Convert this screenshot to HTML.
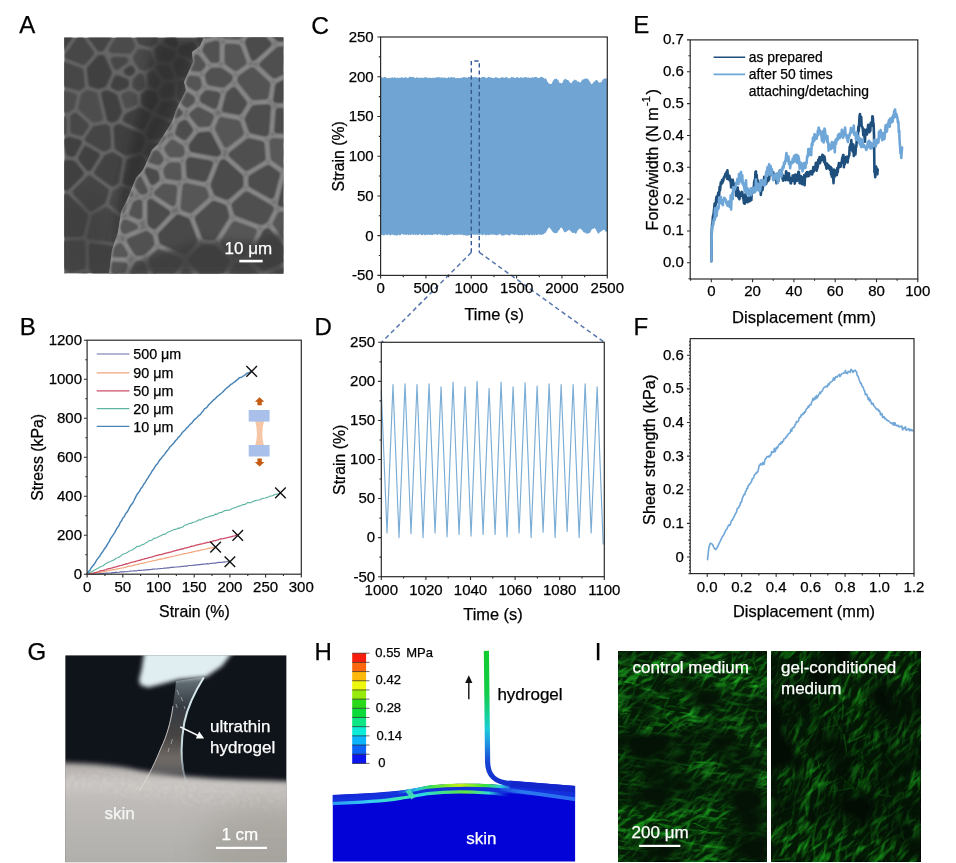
<!DOCTYPE html>
<html lang="en">
<head>
<meta charset="utf-8">
<title>Ultrathin hydrogel figure</title>
<style>
html,body{margin:0;padding:0;background:#fff;}
body{width:956px;height:863px;overflow:hidden;}
svg{display:block;font-family:"Liberation Sans", sans-serif;}
text{stroke-width:0.25px;}
</style>
</head>
<body>
<svg width="956" height="863" viewBox="0 0 956 863">
<rect width="956" height="863" fill="#fff"/>
<text x="19.2" y="33.2" font-size="24" text-anchor="start" fill="#000" stroke="#000">A</text>
<defs><clipPath id="cA"><rect x="64.2" y="37.4" width="219.1" height="236"/></clipPath>
<clipPath id="cAf"><path d="M204 37 L200 46 L192 52 L193 62 L184 82 L186 90 L176 110 L172 122 L158 144 L152 150 L143 170 L136 178 L127 200 L121 212 L118 232 L112 250 L109 274 L284 274 L284 37Z"/></clipPath>
<filter id="bA" x="-5%" y="-5%" width="110%" height="110%"><feGaussianBlur stdDeviation="1.1"/></filter>
<filter id="bA2" x="-5%" y="-5%" width="110%" height="110%"><feGaussianBlur stdDeviation="0.85"/></filter>
<filter id="bA3" x="-30%" y="-30%" width="160%" height="160%"><feGaussianBlur stdDeviation="7"/></filter>
<filter id="bA5" x="-30%" y="-30%" width="160%" height="160%"><feGaussianBlur stdDeviation="5"/></filter><filter id="bA4" x="-30%" y="-30%" width="160%" height="160%"><feGaussianBlur stdDeviation="3"/></filter>
</defs>
<g clip-path="url(#cA)">
<rect x="64.2" y="37.4" width="219.1" height="236" fill="#666"/>
<g filter="url(#bA)" stroke-width="7" stroke-linejoin="round"><path d="M55.4 244.49 L55.4 259.15 L70.98 269.04 L82.27 266.31 L81.81 243.61Z" fill="#484848" stroke="#484848"/><path d="M222.5 57.09 L227.14 72.62 L231.54 75.35 L242.36 67.5 L242.45 53.09 L231.69 51.94Z" fill="#434343" stroke="#434343"/><path d="M150.62 75.44 L151.68 83.75 L154.78 84.55 L156.85 81.74 L151.85 74.74Z" fill="#4a4a4a" stroke="#4a4a4a"/><path d="M225.11 193.95 L231.51 200.7 L230.67 192.85 L227.18 191.78Z" fill="#424242" stroke="#424242"/><path d="M284.49 56.79 L287.4 65.47 L292.1 66.84 L292.1 53.55Z" fill="#4b4b4b" stroke="#4b4b4b"/><path d="M181.51 84.36 L180.89 96.81 L188.31 103.67 L192.93 102.78 L194.04 86.43 L189.91 82.92Z" fill="#484848" stroke="#484848"/><path d="M164.9 170.92 L172.68 181.56 L185.7 176.68 L179.18 162.78Z" fill="#444444" stroke="#444444"/><path d="M55.4 64.69 L55.4 80.88 L78.62 87.23 L81.52 85.26 L80.04 71.3 L59.88 63.7Z" fill="#474747" stroke="#474747"/><path d="M90.42 236.02 L112.52 238.9 L119.21 232.28 L120.51 222.44 L106.2 210.77 L94.84 217.58Z" fill="#484848" stroke="#484848"/><path d="M173.18 250.97 L175.08 255.13 L183.47 260.34 L187.2 260.79 L184.49 245.01 L181.29 244.62Z" fill="#434343" stroke="#434343"/><path d="M218.67 34.46 L220.78 46.14 L224.94 43.81 L224.12 38.1Z" fill="#4b4b4b" stroke="#4b4b4b"/><path d="M252.66 149.45 L253.17 160.4 L269.3 169.56 L284.08 152.11 L269.91 143.45 L254.98 145.76Z" fill="#454545" stroke="#454545"/><path d="M130.86 223.51 L129.87 230.99 L139.44 233.79 L145.68 227.97 L139.62 218.59Z" fill="#4c4c4c" stroke="#4c4c4c"/><path d="M55.4 271.46 L55.4 282.2 L61.8 282.2 L63.76 276.77Z" fill="#4b4b4b" stroke="#4b4b4b"/><path d="M104.7 94.45 L110.38 118.66 L111.8 119.29 L115.4 117.7 L118.62 111.63 L114.11 96.83 L107.05 93.68Z" fill="#414141" stroke="#414141"/><path d="M274.59 59.98 L267.41 73.07 L268.54 74.16 L277.2 67.77Z" fill="#494949" stroke="#494949"/><path d="M92.28 246.75 L92.72 268.63 L102.62 282.2 L108.83 282.2 L118.2 264.95 L110.86 249.17Z" fill="#444444" stroke="#444444"/><path d="M273.8 83.21 L276.39 97.23 L292.1 96.27 L292.1 77.67 L284.35 75.42Z" fill="#4a4a4a" stroke="#4a4a4a"/><path d="M55.4 143.09 L55.4 158.53 L59.32 155.7 L56.3 143.31Z" fill="#474747" stroke="#474747"/><path d="M195.01 214.36 L199.29 228.84 L207.27 228.55 L210.12 220.23 L206.34 214.79Z" fill="#464646" stroke="#464646"/><path d="M287.06 237.29 L280.25 249.3 L292.1 253.97 L292.1 235.7Z" fill="#4c4c4c" stroke="#4c4c4c"/><path d="M90.28 69.28 L91.82 83.74 L98.42 85.56 L103.53 83.89 L108.44 72.91 L102.04 58.42 L99.78 58.48Z" fill="#404040" stroke="#404040"/><path d="M175.01 191.79 L172.07 201.11 L175.29 205.03 L186.46 205.74 L190.14 186.12Z" fill="#474747" stroke="#474747"/><path d="M262.34 229.8 L270.88 244.74 L276.6 234.65 L264.87 227.09Z" fill="#444444" stroke="#444444"/><path d="M55.4 171.36 L55.4 186.89 L66.68 187.04 L80.21 173.47 L72.7 163.87 L66.64 163.24Z" fill="#404040" stroke="#404040"/><path d="M176.59 64.62 L180.34 74.01 L186.6 72.94 L187.32 64.99 L179.23 61.56Z" fill="#4a4a4a" stroke="#4a4a4a"/><path d="M234.41 36.58 L235.17 41.86 L242.08 42.59 L243.38 28.6 L240.88 28.6Z" fill="#474747" stroke="#474747"/><path d="M203.43 101.67 L216.86 100.53 L226.12 84.23 L222.09 81.72 L204.37 87.93Z" fill="#4c4c4c" stroke="#4c4c4c"/><path d="M162.92 232.69 L164.78 240.93 L166.97 242.62 L172.48 238.31 L166.7 230.94Z" fill="#484848" stroke="#484848"/><path d="M85.8 28.6 L99.97 48.07 L101.26 48.04 L112.93 28.6Z" fill="#444444" stroke="#444444"/><path d="M162.65 28.6 L163.37 31.18 L170.54 28.6Z" fill="#4d4d4d" stroke="#4d4d4d"/><path d="M127.96 116.22 L126.33 119.28 L141.73 126.3 L146.82 115.59 L139.53 111.2Z" fill="#414141" stroke="#414141"/><path d="M167.42 40.77 L174.4 43.41 L174.65 43 L172.74 38.86Z" fill="#404040" stroke="#404040"/><path d="M136.77 56.98 L137.1 59.93 L141.48 66.67 L144.11 67.16 L149.43 64.18 L150.44 62.15 L148.01 53.61 L140.19 51.99Z" fill="#4a4a4a" stroke="#4a4a4a"/><path d="M252.42 43.69 L264.13 42.67 L266.82 28.6 L253.82 28.6Z" fill="#454545" stroke="#454545"/><path d="M220.09 153.86 L220.61 162.49 L225.48 166.31 L242.25 162.09 L242.81 161.5 L242.43 153.37Z" fill="#454545" stroke="#454545"/><path d="M115.85 192.79 L112.69 202.65 L126.59 213.98 L137.33 207.94 L139.59 203.11 L135.15 195.2 L120.56 190.39Z" fill="#4c4c4c" stroke="#4c4c4c"/><path d="M181.2 124.69 L181.99 136.97 L185.64 141.08 L202.76 137.2 L194.61 113.04 L189.6 114.01Z" fill="#444444" stroke="#444444"/><path d="M112.41 49.67 L128.72 50.33 L131.85 45.76 L124.19 30.06Z" fill="#4c4c4c" stroke="#4c4c4c"/><path d="M160.4 111.2 L174.2 116.76 L179.65 109.83 L173.73 104.36 L163.82 105.24Z" fill="#494949" stroke="#494949"/><path d="M129.64 161.92 L126.07 181.26 L136.71 184.77 L148.09 169 L140.08 159.28Z" fill="#444444" stroke="#444444"/><path d="M198.39 270.69 L198 282.2 L222.44 282.2 L209.52 267.93Z" fill="#404040" stroke="#404040"/><path d="M127.2 270.18 L120.67 282.2 L143.37 282.2Z" fill="#434343" stroke="#434343"/><path d="M166.1 86.72 L162.76 91.27 L164.1 94.78 L170.6 94.2 L171.01 86.21Z" fill="#4d4d4d" stroke="#4d4d4d"/><path d="M147.88 242.38 L154 240.41 L152.89 235.48 L147.14 240.83Z" fill="#454545" stroke="#454545"/><path d="M273.61 257.86 L283.52 282.2 L292.1 282.2 L292.1 265.14Z" fill="#424242" stroke="#424242"/><path d="M88.63 139.21 L103.91 147.91 L107.49 146.45 L106.75 128.43 L105.24 127.76 L95.2 129.47Z" fill="#444444" stroke="#444444"/><path d="M219.95 223.63 L216.95 232.4 L219.63 235.35 L236.24 229.34 L231.14 220.25Z" fill="#4c4c4c" stroke="#4c4c4c"/><path d="M155.79 176.09 L144.85 191.25 L148.42 197.6 L162.41 197.16 L165.06 188.76Z" fill="#424242" stroke="#424242"/><path d="M194.55 242.19 L197.64 260.16 L207.98 257.6 L213.4 248.81 L213.05 243.58 L208.81 238.9 L197.6 239.3Z" fill="#4a4a4a" stroke="#4a4a4a"/><path d="M144.39 96.12 L144.88 102.29 L151.31 106.15 L154.91 99.86 L152.99 94.83 L148.01 93.54Z" fill="#414141" stroke="#414141"/><path d="M55.4 91.66 L55.4 108.71 L66.95 109.3 L71.23 106.57 L73.42 96.59Z" fill="#4d4d4d" stroke="#4d4d4d"/><path d="M80.32 38.74 L68.37 55.79 L83.34 61.43 L90.72 53.03Z" fill="#474747" stroke="#474747"/><path d="M217.77 261.54 L227.14 271.9 L232.6 261.43 L220.81 256.61Z" fill="#404040" stroke="#404040"/><path d="M218.03 201.59 L215.01 209.04 L218.01 213.35 L226.68 210.73Z" fill="#4d4d4d" stroke="#4d4d4d"/><path d="M277.41 28.6 L274.11 45.89 L275.79 47.69 L277.79 48.34 L292.1 42.25 L292.1 28.6Z" fill="#454545" stroke="#454545"/><path d="M205.22 111.95 L211.48 130.51 L223.86 120.06 L217.48 110.91Z" fill="#4a4a4a" stroke="#4a4a4a"/><path d="M55.4 119.12 L55.4 132.39 L59.91 133.49 L63.36 131.65 L63.2 119.52Z" fill="#474747" stroke="#474747"/><path d="M130.68 69.13 L127.31 71.56 L129.79 72.6 L131.69 70.69Z" fill="#414141" stroke="#414141"/><path d="M187 154.99 L195.71 173.52 L210.2 162.65 L209.49 150.74 L206.5 147.02 L188.01 151.21Z" fill="#414141" stroke="#414141"/><path d="M107.03 157.87 L97.87 172.34 L112.09 183.03 L115.48 181.31 L119.38 160.21 L112.31 155.72Z" fill="#424242" stroke="#424242"/><path d="M279.16 107.48 L276.49 135.28 L292.1 144.82 L292.1 106.69Z" fill="#424242" stroke="#424242"/><path d="M270.29 213.8 L269.69 217.81 L284.31 227.25 L292.1 224.79 L292.1 206.34 L287.71 205.4Z" fill="#404040" stroke="#404040"/><path d="M252.84 54.09 L252.77 66.26 L258.39 67.89 L266.54 53.02 L266.43 52.91Z" fill="#404040" stroke="#404040"/><path d="M159.91 68.13 L165.75 76.3 L169.89 75.87 L166.98 68.59Z" fill="#4d4d4d" stroke="#4d4d4d"/><path d="M248.9 118.88 L246.93 122.12 L254.56 135.3 L266.21 133.5 L268.69 107.73Z" fill="#414141" stroke="#414141"/><path d="M73.58 117.4 L73.75 130.69 L80.65 132.43 L85.31 125.52 L75.27 116.32Z" fill="#474747" stroke="#474747"/><path d="M117.28 78.61 L114.21 85.48 L118.58 87.44 L125.3 84.95 L125.52 82.09Z" fill="#414141" stroke="#414141"/><path d="M223.57 244.99 L223.67 246.54 L239.33 252.94 L238 239.76Z" fill="#434343" stroke="#434343"/><path d="M158.03 50.8 L159.99 57.71 L168.35 58.26 L172.12 53.87 L172.07 53.65 L159.92 49.05Z" fill="#4a4a4a" stroke="#4a4a4a"/><path d="M84.2 96.02 L81.57 107.99 L93.77 119.16 L99.58 118.17 L94.19 95.18 L87.96 93.46Z" fill="#4d4d4d" stroke="#4d4d4d"/><path d="M136.04 81.07 L135.66 85.77 L138.65 87.44 L141.42 85.47 L140.34 77.04 L140.09 76.99Z" fill="#464646" stroke="#464646"/><path d="M117.15 128.3 L117.92 146.96 L126.02 152.11 L138.13 149.05 L141.2 141.22 L139.92 136.91 L119.12 127.42Z" fill="#404040" stroke="#404040"/><path d="M124.8 96.23 L127.5 105.08 L134.43 102.07 L134.01 96.77 L129.77 94.39Z" fill="#4d4d4d" stroke="#4d4d4d"/><path d="M81.61 158.37 L88.67 167.41 L96.22 155.5 L86.14 149.76Z" fill="#404040" stroke="#404040"/><path d="M140.76 267.31 L152.03 275.68 L152 273 L150.48 269.64Z" fill="#454545" stroke="#454545"/><path d="M155.94 120.62 L149.78 133.59 L150.48 135.94 L171.4 134.3 L170.9 126.65Z" fill="#474747" stroke="#474747"/><path d="M241.08 192.37 L242.02 201.17 L242.48 201.01 L242.52 191.85Z" fill="#4c4c4c" stroke="#4c4c4c"/><path d="M249.92 170.51 L249.09 183.2 L249.11 183.21 L256.24 182.68 L261.09 176.86Z" fill="#4b4b4b" stroke="#4b4b4b"/><path d="M174.02 223.43 L182.55 234.29 L187.16 234.86 L189.56 232.59 L184.66 216.05 L176.47 215.53Z" fill="#484848" stroke="#484848"/><path d="M135.04 28.6 L141.4 41.62 L150.59 43.52 L154.02 40.34 L154.52 38.11 L151.85 28.6Z" fill="#454545" stroke="#454545"/><path d="M239.41 213.73 L246.03 225.54 L253.3 224.24 L259.14 217.99 L259.89 213.01 L247.93 210.12 L240.39 212.74Z" fill="#4b4b4b" stroke="#4b4b4b"/><path d="M260.48 264.17 L259.69 282.2 L272.29 282.2 L264.29 262.55Z" fill="#4c4c4c" stroke="#4c4c4c"/><path d="M203.01 181.04 L215.68 188.75 L220.23 184 L219.32 174.7 L215.48 171.69Z" fill="#4c4c4c" stroke="#4c4c4c"/><path d="M243.89 96.24 L247.96 107.47 L257.69 101.99Z" fill="#4a4a4a" stroke="#4a4a4a"/><path d="M277.74 175.68 L290.27 195.31 L292.1 195.7 L292.1 158.73Z" fill="#414141" stroke="#414141"/><path d="M55.4 197.29 L55.4 234.09 L80.38 233.26 L84.57 215.83 L66.59 197.44Z" fill="#444444" stroke="#444444"/><path d="M264.45 189.07 L267.61 203.54 L279.52 197.8 L269.83 182.61Z" fill="#464646" stroke="#464646"/><path d="M114.17 60.15 L116.87 66.25 L124.76 60.58Z" fill="#474747" stroke="#474747"/><path d="M166.74 282.2 L187.6 282.2 L187.96 271.35 L183.06 270.77Z" fill="#4b4b4b" stroke="#4b4b4b"/><path d="M243.57 262.88 L233.74 281.76 L233.81 282.2 L249.28 282.2 L250.07 264.21 L245 262.3Z" fill="#434343" stroke="#434343"/><path d="M215.07 141.09 L217.03 143.52 L244.48 142.92 L245.77 140.88 L237.7 126.95 L232.49 126.38Z" fill="#494949" stroke="#494949"/><path d="M89.4 178.98 L76.12 192.3 L91.14 207.67 L102.3 200.99 L105.48 191.07Z" fill="#454545" stroke="#454545"/><path d="M199.99 38.75 L205.21 48.74 L210.77 49.23 L207.04 28.6 L205.44 28.6 L200.51 36.34Z" fill="#4a4a4a" stroke="#4a4a4a"/><path d="M74 279.01 L72.86 282.2 L89.75 282.2 L85.4 276.25Z" fill="#424242" stroke="#424242"/><path d="M120.63 245.51 L127.23 259.7 L132.29 256.79 L138.98 247.89 L137.12 243.95 L125.61 240.58Z" fill="#464646" stroke="#464646"/><path d="M252.91 193.35 L252.89 200.62 L256.52 201.5 L254.71 193.22Z" fill="#414141" stroke="#414141"/><path d="M147.26 211.25 L155.6 224.16 L156.29 224.3 L163.96 220.75 L166.91 211.22 L163.87 207.51 L148.79 207.99Z" fill="#424242" stroke="#424242"/><path d="M197.83 64.22 L196.84 75.17 L200.5 78.27 L216.32 72.72 L212.47 59.82 L203.69 59.05Z" fill="#4d4d4d" stroke="#4d4d4d"/><path d="M226.17 105.19 L233.75 116.06 L238.15 116.53 L239.43 114.44 L232.21 94.56Z" fill="#444444" stroke="#444444"/><path d="M238.86 82.89 L265.18 93.84 L263.28 83.54 L258.26 78.68 L248.54 75.86Z" fill="#4c4c4c" stroke="#4c4c4c"/><path d="M229.89 175.93 L230.48 181.92 L235.33 183.4 L238.74 182.16 L239.3 173.55Z" fill="#474747" stroke="#474747"/><path d="M55.4 28.6 L55.4 54.04 L57.17 53.65 L74.73 28.6Z" fill="#404040" stroke="#404040"/><path d="M147.95 152.48 L157 163.46 L177.03 152.04 L178.05 148.2 L174.75 144.47 L150.34 146.38Z" fill="#4b4b4b" stroke="#4b4b4b"/><path d="M66.61 141.7 L69.39 153.07 L72.48 153.39 L78.19 142.54 L69.27 140.29Z" fill="#404040" stroke="#404040"/><path d="M182.08 50.73 L182.26 51.54 L191.86 55.62 L195.42 52.47 L191.85 45.63 L183.89 47.85Z" fill="#4b4b4b" stroke="#4b4b4b"/><path d="M199.76 191.24 L197.36 204.05 L205.68 204.36 L208.78 196.72Z" fill="#404040" stroke="#404040"/><path d="M248.05 235.75 L249.79 252.99 L255.31 255.07 L262.94 251.81 L253.23 234.82Z" fill="#494949" stroke="#494949"/></g>
<path d="M156 37 L204 37 L186 82 L176 112 L158 146 L143 172 L128 202 L120 232 L112 262 L118 205 L130 150 L142 100 L150 60Z" fill="#2c2c2c" opacity="0.72" filter="url(#bA5)"/>
<path d="M64 205 L100 195 L112 274 L64 274Z" fill="#3a3a3a" opacity="0.45" filter="url(#bA3)"/>
<g clip-path="url(#cAf)">
<path d="M204 37 L200 46 L192 52 L193 62 L184 82 L186 90 L176 110 L172 122 L158 144 L152 150 L143 170 L136 178 L127 200 L121 212 L118 232 L112 250 L109 274 L284 274 L284 37Z" fill="#6e6e6e"/>
<g filter="url(#bA2)"><path d="M83.12 102.05 L79.49 118.72 L86.97 126.16 L99.03 122.74 L105.15 114.41 L91.69 98.13ZM272.43 141.91 L273.74 158.27 L284.55 165.84 L291.7 164.06 L291.7 142.14 L273.29 141.19ZM197.83 218.22 L204.97 236.83 L213.25 237.3 L226.32 216.53 L223.61 207.39 L213.91 203.88ZM72.31 232.01 L67.86 246.62 L77.76 253.97 L88.41 244.24 L86.84 238.61ZM278.7 49.69 L262.63 64.58 L274.31 75.32 L291.7 67.09 L291.7 49.45ZM182.06 93.11 L181.37 99.37 L187.01 104.55 L191.77 100.76 L191.72 98.47 L182.43 92.88ZM225.32 29 L224.6 35.2 L224.67 35.26 L238.74 36.23 L242.56 29ZM178.07 217.56 L161.06 235.11 L162.42 241.68 L184 251 L194.49 240.78 L186.88 220.95ZM227.75 46.7 L227.63 62.28 L235.72 68 L243.49 62.49 L237.97 47.41ZM240.86 78.09 L240.41 80.68 L253.5 96.99 L265.51 96.32 L267.32 84.11 L252.18 70.19 L252 70.19ZM231.76 154.67 L246.49 167.76 L262.51 158.3 L261.36 144.05 L248.81 141.26ZM82.51 208.42 L76.32 221.53 L90.3 227.88 L94.22 223.92 L94.01 210.45ZM234.57 204.95 L236.98 213.08 L261.21 222.01 L264.96 220.21 L270.78 208.9 L270.48 208.19 L246.55 194.54ZM276.33 99.75 L291.7 100.46 L291.7 79.48 L278.4 85.78ZM93.32 60.62 L100.04 75 L122.61 69.59 L118.19 50.43 L108.82 48.05ZM180.68 125.25 L178.29 133.13 L184.51 136.98 L190.03 129.87 L184.68 122.83ZM134.96 139.59 L129.59 149.42 L139.96 152.55 L144.21 146.84 L141.23 139.24ZM108.29 29 L111.61 37.2 L121.47 39.71 L131.25 31.49 L131.57 29ZM159.33 102.13 L170.29 97.65 L170.74 93.55 L162.8 90.73ZM151.66 259.28 L158.72 281.8 L165.3 281.8 L179.12 261.09 L158.76 252.3ZM80.81 189.67 L83.46 197.22 L98.46 199.86 L102.1 197.68 L104.16 193.97 L103.93 190.44 L87.78 182.73ZM202.89 97.44 L202.95 99.95 L214.43 105.87 L217.32 95.01 L206.97 93.16ZM135.67 204.01 L132.28 213.39 L139.28 216.27 L139.27 202.33ZM247.8 118.82 L251.73 130.43 L265.13 133.41 L265.97 132.71 L267.8 107.41 L254.2 108.17ZM280.85 203.61 L291.7 203.9 L291.7 175.6 L288 176.52ZM150.47 201.89 L150.48 223.11 L150.9 223.83 L154.22 226.07 L167.09 212.79ZM112.1 265.06 L111.38 268.66 L115.62 271.95 L122.82 270.48 L124.71 265.48ZM126.2 115.21 L134.52 128.39 L141.97 127.98 L145.77 122.63 L146.01 113.27 L133.44 109.98ZM265.73 232.26 L253.73 258.37 L263.95 267.22 L288.13 256.86 L267.51 231.41ZM291.7 267.52 L268.43 277.49 L268.32 281.8 L291.7 281.8ZM166.31 170.19 L167.51 175.8 L178.48 177.56 L177.86 165.56 L170.32 165.5ZM207.28 46.1 L205.43 50.2 L212.51 59.69 L216.45 59.64 L216.58 43.63ZM191.1 259.72 L211.52 281.8 L214.9 281.8 L226.82 261.04 L213.85 248.56 L203.18 247.94ZM55.8 257.17 L55.8 279.95 L72.85 267.12 L72.68 264.15 L60.58 255.17ZM192.44 114.54 L199.73 124.12 L207.92 123.57 L210.74 116.56 L198.09 110.04ZM93.57 165.46 L92.68 172.66 L107.81 179.88 L112.32 174.5 L110.89 163.06ZM55.8 64.26 L55.8 80.42 L78.37 91.9 L88.83 87.12 L90.83 81.75 L82.36 63.62 L67.08 58.78ZM134.87 78.39 L137.41 99.44 L147.63 102.12 L153.21 83.78 L150.85 78.13 L149.39 77.29ZM275.73 223.76 L291.7 243.48 L291.7 215.1 L280.34 214.8ZM167.01 148.61 L170.79 154.3 L180.46 154.39 L181.84 152.61 L180.86 147.88 L172.37 142.63ZM55.8 92.99 L55.8 118.69 L68.65 115.84 L71.85 101.15ZM137.17 264.2 L133.14 274.86 L137.11 281.8 L146.99 281.8 L141.32 263.75ZM129.11 47.92 L133.57 67.25 L145.95 66.32 L149.29 47.97 L137.15 41.16ZM189.87 78.8 L188.77 83.63 L196.28 88.15 L198.83 85.46 L197.41 79.5ZM110.35 252.47 L111.04 253.82 L124.95 254.28 L120.06 246.23ZM83.87 263.56 L84.04 266.72 L91.74 271.97 L100.23 267.31 L101.67 260.11 L98.87 254.6 L95.59 252.85ZM55.8 29 L55.8 51.81 L61.58 49 L64.9 29ZM149.02 159.13 L158.43 162.17 L160.76 159.45 L156.86 153.57 L153.28 153.41ZM162.55 77.08 L163.36 79.04 L176.16 83.59 L177.48 82.79 L179.27 74.88 L172.92 72.4ZM76.25 29 L72.95 48.89 L85.21 52.77 L100.73 40.19 L96.2 29ZM55.8 130.16 L55.8 149.37 L76.76 146.5 L79.26 134.28 L71.58 126.66ZM55.8 160.68 L55.8 177.09 L72.73 181.91 L81.31 173.37 L82.69 162.14 L79.03 157.5ZM55.8 225.99 L55.8 245.02 L56.76 244.62 L61.84 227.93ZM55.8 188.74 L55.8 214.22 L65.87 217.45 L73.22 201.85 L70.04 192.78ZM129.95 240.95 L137.23 252.92 L142.75 252.33 L151.42 243.81 L149.95 236.71 L146.09 234.1ZM147.43 170.84 L152.79 182.01 L156.67 178.65 L155.46 172.98 L147.55 170.42ZM115.04 188.68 L115.17 190.68 L130 193.93 L123.42 183.7 L120.08 182.67ZM105.19 208.88 L105.37 220.74 L113.14 220.96 L114.23 218.9 L105.19 208.88ZM208.04 75.79 L209.58 82.25 L222.74 84.61 L229.3 79.21 L229.61 77.39 L220.26 70.79 L212.31 70.89ZM121.64 158.73 L123.29 171.94 L126.46 172.92 L136.74 167.48 L137.88 163.62ZM191.73 67.73 L199.58 68.45 L202.54 65.05 L196.8 57.37 L196.16 57.56ZM90.15 136.9 L87.45 150.09 L90.95 154.52 L110 151.88 L99.74 134.18ZM185.58 186.31 L183.59 207.68 L190.03 210.16 L206.01 195.91 L203.58 189.85 L185.75 186.17ZM151.29 134.2 L154.45 142.26 L157.55 142.39 L162.22 137.18 L152.95 131.87ZM237.12 265.59 L227.82 281.8 L257.11 281.8 L257.26 276.25 L244.83 265.48ZM269.21 29 L278.73 38.48 L291.7 38.24 L291.7 29ZM97.8 236.23 L99.47 242.23 L102.8 244 L114.79 236.31 L112.85 232.16 L102.13 231.86ZM135.03 181.05 L141.61 191.27 L143.65 191.47 L144.64 190.91 L138.92 179ZM188.88 161.8 L189.59 175.52 L204.18 178.54 L210 163.73 L190.19 160.12ZM157.13 116.53 L157.01 121.29 L168.23 127.72 L169.33 124.07ZM202.05 29 L201.77 30.66 L205.33 35.03 L213.6 32.83 L214.04 29ZM178.13 39.68 L192.61 46.93 L194.92 46.25 L196.74 42.22 L193.39 38.11ZM113.96 201.88 L121.51 210.25 L123.76 204.03ZM222.27 163.15 L213.69 184.95 L216.94 193.06 L226.98 196.7 L240.26 185.16 L240.23 177.18 L223.52 162.33ZM142.87 29 L142.56 31.35 L156.32 39.08 L166.8 36.49 L167.71 33.99 L166.9 29ZM99.64 90.17 L114.73 108.41 L116.68 108.28 L126.35 101.29 L123.88 80.8 L101.11 86.26ZM78.77 276.68 L71.96 281.8 L86.11 281.8 L86.1 281.68ZM97.35 281.66 L97.37 281.8 L108.29 281.8 L108.4 280.52 L104.68 277.64ZM157.17 67.23 L167.08 62.75 L166.73 48.05 L160.37 49.62ZM124.95 222.58 L122.72 226.81 L124.68 231.02 L135.02 226.63 L125.07 222.54ZM221.41 120.05 L217.96 128.61 L226.38 144.66 L240.86 133.26 L237.41 123.06ZM191.86 145.78 L192.56 149.17 L216.52 153.53 L217.91 152.62 L208.54 134.75 L199.98 135.33ZM234.73 224.19 L223.4 242.21 L236.07 254.4 L243.27 254.3 L253.87 231.24ZM278.77 111.07 L277.38 130.19 L291.7 130.93 L291.7 111.67ZM186.1 270.81 L178.77 281.8 L196.26 281.8ZM168.59 110.44 L175.97 115.01 L179.51 112.87 L174.33 108.1ZM251.44 177.85 L251.46 184.45 L271.33 195.78 L277.02 174.24 L268.11 168ZM109.09 127.96 L119.1 145.25 L125.05 134.37 L115.71 119.57 L115.23 119.61ZM178.03 52.16 L178.28 62.47 L181.29 63.64 L184.81 55.55ZM248.1 42.49 L253.64 57.64 L268.38 43.98 L254.58 30.23ZM157.26 192.95 L172.77 203.12 L174.15 188.21 L164.53 186.66ZM229.25 93.76 L225.1 109.35 L238.87 111.94 L244.12 103.2 L233.64 90.14Z" fill="none" stroke="#9a9a9a" stroke-width="10.2" stroke-linejoin="round"/><g stroke-width="7.4" stroke-linejoin="round"><path d="M83.12 102.05 L79.49 118.72 L86.97 126.16 L99.03 122.74 L105.15 114.41 L91.69 98.13Z" fill="#4c4c4c" stroke="#4c4c4c"/><path d="M272.43 141.91 L273.74 158.27 L284.55 165.84 L291.7 164.06 L291.7 142.14 L273.29 141.19Z" fill="#585858" stroke="#585858"/><path d="M197.83 218.22 L204.97 236.83 L213.25 237.3 L226.32 216.53 L223.61 207.39 L213.91 203.88Z" fill="#4e4e4e" stroke="#4e4e4e"/><path d="M72.31 232.01 L67.86 246.62 L77.76 253.97 L88.41 244.24 L86.84 238.61Z" fill="#535353" stroke="#535353"/><path d="M278.7 49.69 L262.63 64.58 L274.31 75.32 L291.7 67.09 L291.7 49.45Z" fill="#4f4f4f" stroke="#4f4f4f"/><path d="M182.06 93.11 L181.37 99.37 L187.01 104.55 L191.77 100.76 L191.72 98.47 L182.43 92.88Z" fill="#535353" stroke="#535353"/><path d="M225.32 29 L224.6 35.2 L224.67 35.26 L238.74 36.23 L242.56 29Z" fill="#4f4f4f" stroke="#4f4f4f"/><path d="M178.07 217.56 L161.06 235.11 L162.42 241.68 L184 251 L194.49 240.78 L186.88 220.95Z" fill="#484848" stroke="#484848"/><path d="M227.75 46.7 L227.63 62.28 L235.72 68 L243.49 62.49 L237.97 47.41Z" fill="#555555" stroke="#555555"/><path d="M240.86 78.09 L240.41 80.68 L253.5 96.99 L265.51 96.32 L267.32 84.11 L252.18 70.19 L252 70.19Z" fill="#535353" stroke="#535353"/><path d="M231.76 154.67 L246.49 167.76 L262.51 158.3 L261.36 144.05 L248.81 141.26Z" fill="#4f4f4f" stroke="#4f4f4f"/><path d="M82.51 208.42 L76.32 221.53 L90.3 227.88 L94.22 223.92 L94.01 210.45Z" fill="#4d4d4d" stroke="#4d4d4d"/><path d="M234.57 204.95 L236.98 213.08 L261.21 222.01 L264.96 220.21 L270.78 208.9 L270.48 208.19 L246.55 194.54Z" fill="#4f4f4f" stroke="#4f4f4f"/><path d="M276.33 99.75 L291.7 100.46 L291.7 79.48 L278.4 85.78Z" fill="#494949" stroke="#494949"/><path d="M93.32 60.62 L100.04 75 L122.61 69.59 L118.19 50.43 L108.82 48.05Z" fill="#4c4c4c" stroke="#4c4c4c"/><path d="M180.68 125.25 L178.29 133.13 L184.51 136.98 L190.03 129.87 L184.68 122.83Z" fill="#4d4d4d" stroke="#4d4d4d"/><path d="M134.96 139.59 L129.59 149.42 L139.96 152.55 L144.21 146.84 L141.23 139.24Z" fill="#525252" stroke="#525252"/><path d="M108.29 29 L111.61 37.2 L121.47 39.71 L131.25 31.49 L131.57 29Z" fill="#545454" stroke="#545454"/><path d="M159.33 102.13 L170.29 97.65 L170.74 93.55 L162.8 90.73Z" fill="#585858" stroke="#585858"/><path d="M151.66 259.28 L158.72 281.8 L165.3 281.8 L179.12 261.09 L158.76 252.3Z" fill="#515151" stroke="#515151"/><path d="M80.81 189.67 L83.46 197.22 L98.46 199.86 L102.1 197.68 L104.16 193.97 L103.93 190.44 L87.78 182.73Z" fill="#4c4c4c" stroke="#4c4c4c"/><path d="M202.89 97.44 L202.95 99.95 L214.43 105.87 L217.32 95.01 L206.97 93.16Z" fill="#505050" stroke="#505050"/><path d="M135.67 204.01 L132.28 213.39 L139.28 216.27 L139.27 202.33Z" fill="#525252" stroke="#525252"/><path d="M247.8 118.82 L251.73 130.43 L265.13 133.41 L265.97 132.71 L267.8 107.41 L254.2 108.17Z" fill="#4d4d4d" stroke="#4d4d4d"/><path d="M280.85 203.61 L291.7 203.9 L291.7 175.6 L288 176.52Z" fill="#494949" stroke="#494949"/><path d="M150.47 201.89 L150.48 223.11 L150.9 223.83 L154.22 226.07 L167.09 212.79Z" fill="#4b4b4b" stroke="#4b4b4b"/><path d="M112.1 265.06 L111.38 268.66 L115.62 271.95 L122.82 270.48 L124.71 265.48Z" fill="#525252" stroke="#525252"/><path d="M126.2 115.21 L134.52 128.39 L141.97 127.98 L145.77 122.63 L146.01 113.27 L133.44 109.98Z" fill="#4a4a4a" stroke="#4a4a4a"/><path d="M265.73 232.26 L253.73 258.37 L263.95 267.22 L288.13 256.86 L267.51 231.41Z" fill="#484848" stroke="#484848"/><path d="M291.7 267.52 L268.43 277.49 L268.32 281.8 L291.7 281.8Z" fill="#4f4f4f" stroke="#4f4f4f"/><path d="M166.31 170.19 L167.51 175.8 L178.48 177.56 L177.86 165.56 L170.32 165.5Z" fill="#565656" stroke="#565656"/><path d="M207.28 46.1 L205.43 50.2 L212.51 59.69 L216.45 59.64 L216.58 43.63Z" fill="#515151" stroke="#515151"/><path d="M191.1 259.72 L211.52 281.8 L214.9 281.8 L226.82 261.04 L213.85 248.56 L203.18 247.94Z" fill="#4e4e4e" stroke="#4e4e4e"/><path d="M55.8 257.17 L55.8 279.95 L72.85 267.12 L72.68 264.15 L60.58 255.17Z" fill="#555555" stroke="#555555"/><path d="M192.44 114.54 L199.73 124.12 L207.92 123.57 L210.74 116.56 L198.09 110.04Z" fill="#525252" stroke="#525252"/><path d="M93.57 165.46 L92.68 172.66 L107.81 179.88 L112.32 174.5 L110.89 163.06Z" fill="#535353" stroke="#535353"/><path d="M55.8 64.26 L55.8 80.42 L78.37 91.9 L88.83 87.12 L90.83 81.75 L82.36 63.62 L67.08 58.78Z" fill="#505050" stroke="#505050"/><path d="M134.87 78.39 L137.41 99.44 L147.63 102.12 L153.21 83.78 L150.85 78.13 L149.39 77.29Z" fill="#555555" stroke="#555555"/><path d="M275.73 223.76 L291.7 243.48 L291.7 215.1 L280.34 214.8Z" fill="#575757" stroke="#575757"/><path d="M167.01 148.61 L170.79 154.3 L180.46 154.39 L181.84 152.61 L180.86 147.88 L172.37 142.63Z" fill="#595959" stroke="#595959"/><path d="M55.8 92.99 L55.8 118.69 L68.65 115.84 L71.85 101.15Z" fill="#4e4e4e" stroke="#4e4e4e"/><path d="M137.17 264.2 L133.14 274.86 L137.11 281.8 L146.99 281.8 L141.32 263.75Z" fill="#535353" stroke="#535353"/><path d="M129.11 47.92 L133.57 67.25 L145.95 66.32 L149.29 47.97 L137.15 41.16Z" fill="#4e4e4e" stroke="#4e4e4e"/><path d="M189.87 78.8 L188.77 83.63 L196.28 88.15 L198.83 85.46 L197.41 79.5Z" fill="#555555" stroke="#555555"/><path d="M110.35 252.47 L111.04 253.82 L124.95 254.28 L120.06 246.23Z" fill="#585858" stroke="#585858"/><path d="M83.87 263.56 L84.04 266.72 L91.74 271.97 L100.23 267.31 L101.67 260.11 L98.87 254.6 L95.59 252.85Z" fill="#4c4c4c" stroke="#4c4c4c"/><path d="M55.8 29 L55.8 51.81 L61.58 49 L64.9 29Z" fill="#4a4a4a" stroke="#4a4a4a"/><path d="M149.02 159.13 L158.43 162.17 L160.76 159.45 L156.86 153.57 L153.28 153.41Z" fill="#555555" stroke="#555555"/><path d="M162.55 77.08 L163.36 79.04 L176.16 83.59 L177.48 82.79 L179.27 74.88 L172.92 72.4Z" fill="#575757" stroke="#575757"/><path d="M76.25 29 L72.95 48.89 L85.21 52.77 L100.73 40.19 L96.2 29Z" fill="#595959" stroke="#595959"/><path d="M55.8 130.16 L55.8 149.37 L76.76 146.5 L79.26 134.28 L71.58 126.66Z" fill="#494949" stroke="#494949"/><path d="M55.8 160.68 L55.8 177.09 L72.73 181.91 L81.31 173.37 L82.69 162.14 L79.03 157.5Z" fill="#4a4a4a" stroke="#4a4a4a"/><path d="M55.8 225.99 L55.8 245.02 L56.76 244.62 L61.84 227.93Z" fill="#595959" stroke="#595959"/><path d="M55.8 188.74 L55.8 214.22 L65.87 217.45 L73.22 201.85 L70.04 192.78Z" fill="#545454" stroke="#545454"/><path d="M129.95 240.95 L137.23 252.92 L142.75 252.33 L151.42 243.81 L149.95 236.71 L146.09 234.1Z" fill="#515151" stroke="#515151"/><path d="M147.43 170.84 L152.79 182.01 L156.67 178.65 L155.46 172.98 L147.55 170.42Z" fill="#4b4b4b" stroke="#4b4b4b"/><path d="M115.04 188.68 L115.17 190.68 L130 193.93 L123.42 183.7 L120.08 182.67Z" fill="#585858" stroke="#585858"/><path d="M105.19 208.88 L105.37 220.74 L113.14 220.96 L114.23 218.9 L105.19 208.88Z" fill="#575757" stroke="#575757"/><path d="M208.04 75.79 L209.58 82.25 L222.74 84.61 L229.3 79.21 L229.61 77.39 L220.26 70.79 L212.31 70.89Z" fill="#515151" stroke="#515151"/><path d="M121.64 158.73 L123.29 171.94 L126.46 172.92 L136.74 167.48 L137.88 163.62Z" fill="#575757" stroke="#575757"/><path d="M191.73 67.73 L199.58 68.45 L202.54 65.05 L196.8 57.37 L196.16 57.56Z" fill="#525252" stroke="#525252"/><path d="M90.15 136.9 L87.45 150.09 L90.95 154.52 L110 151.88 L99.74 134.18Z" fill="#515151" stroke="#515151"/><path d="M185.58 186.31 L183.59 207.68 L190.03 210.16 L206.01 195.91 L203.58 189.85 L185.75 186.17Z" fill="#565656" stroke="#565656"/><path d="M151.29 134.2 L154.45 142.26 L157.55 142.39 L162.22 137.18 L152.95 131.87Z" fill="#515151" stroke="#515151"/><path d="M237.12 265.59 L227.82 281.8 L257.11 281.8 L257.26 276.25 L244.83 265.48Z" fill="#535353" stroke="#535353"/><path d="M269.21 29 L278.73 38.48 L291.7 38.24 L291.7 29Z" fill="#484848" stroke="#484848"/><path d="M97.8 236.23 L99.47 242.23 L102.8 244 L114.79 236.31 L112.85 232.16 L102.13 231.86Z" fill="#4a4a4a" stroke="#4a4a4a"/><path d="M135.03 181.05 L141.61 191.27 L143.65 191.47 L144.64 190.91 L138.92 179Z" fill="#525252" stroke="#525252"/><path d="M188.88 161.8 L189.59 175.52 L204.18 178.54 L210 163.73 L190.19 160.12Z" fill="#4c4c4c" stroke="#4c4c4c"/><path d="M157.13 116.53 L157.01 121.29 L168.23 127.72 L169.33 124.07Z" fill="#545454" stroke="#545454"/><path d="M202.05 29 L201.77 30.66 L205.33 35.03 L213.6 32.83 L214.04 29Z" fill="#535353" stroke="#535353"/><path d="M178.13 39.68 L192.61 46.93 L194.92 46.25 L196.74 42.22 L193.39 38.11Z" fill="#515151" stroke="#515151"/><path d="M113.96 201.88 L121.51 210.25 L123.76 204.03Z" fill="#484848" stroke="#484848"/><path d="M222.27 163.15 L213.69 184.95 L216.94 193.06 L226.98 196.7 L240.26 185.16 L240.23 177.18 L223.52 162.33Z" fill="#4c4c4c" stroke="#4c4c4c"/><path d="M142.87 29 L142.56 31.35 L156.32 39.08 L166.8 36.49 L167.71 33.99 L166.9 29Z" fill="#4b4b4b" stroke="#4b4b4b"/><path d="M99.64 90.17 L114.73 108.41 L116.68 108.28 L126.35 101.29 L123.88 80.8 L101.11 86.26Z" fill="#4d4d4d" stroke="#4d4d4d"/><path d="M78.77 276.68 L71.96 281.8 L86.11 281.8 L86.1 281.68Z" fill="#575757" stroke="#575757"/><path d="M97.35 281.66 L97.37 281.8 L108.29 281.8 L108.4 280.52 L104.68 277.64Z" fill="#4c4c4c" stroke="#4c4c4c"/><path d="M157.17 67.23 L167.08 62.75 L166.73 48.05 L160.37 49.62Z" fill="#4d4d4d" stroke="#4d4d4d"/><path d="M124.95 222.58 L122.72 226.81 L124.68 231.02 L135.02 226.63 L125.07 222.54Z" fill="#565656" stroke="#565656"/><path d="M221.41 120.05 L217.96 128.61 L226.38 144.66 L240.86 133.26 L237.41 123.06Z" fill="#575757" stroke="#575757"/><path d="M191.86 145.78 L192.56 149.17 L216.52 153.53 L217.91 152.62 L208.54 134.75 L199.98 135.33Z" fill="#484848" stroke="#484848"/><path d="M234.73 224.19 L223.4 242.21 L236.07 254.4 L243.27 254.3 L253.87 231.24Z" fill="#565656" stroke="#565656"/><path d="M278.77 111.07 L277.38 130.19 L291.7 130.93 L291.7 111.67Z" fill="#4c4c4c" stroke="#4c4c4c"/><path d="M186.1 270.81 L178.77 281.8 L196.26 281.8Z" fill="#575757" stroke="#575757"/><path d="M168.59 110.44 L175.97 115.01 L179.51 112.87 L174.33 108.1Z" fill="#505050" stroke="#505050"/><path d="M251.44 177.85 L251.46 184.45 L271.33 195.78 L277.02 174.24 L268.11 168Z" fill="#4d4d4d" stroke="#4d4d4d"/><path d="M109.09 127.96 L119.1 145.25 L125.05 134.37 L115.71 119.57 L115.23 119.61Z" fill="#484848" stroke="#484848"/><path d="M178.03 52.16 L178.28 62.47 L181.29 63.64 L184.81 55.55Z" fill="#484848" stroke="#484848"/><path d="M248.1 42.49 L253.64 57.64 L268.38 43.98 L254.58 30.23Z" fill="#4b4b4b" stroke="#4b4b4b"/><path d="M157.26 192.95 L172.77 203.12 L174.15 188.21 L164.53 186.66Z" fill="#545454" stroke="#545454"/><path d="M229.25 93.76 L225.1 109.35 L238.87 111.94 L244.12 103.2 L233.64 90.14Z" fill="#4e4e4e" stroke="#4e4e4e"/></g></g>
<path d="M204 37 L200 46 L192 52 L193 62 L184 82 L186 90 L176 110 L172 122 L158 144 L152 150 L143 170 L136 178 L127 200 L121 212 L118 232 L112 250 L109 274" fill="none" stroke="#9a9a9a" stroke-width="2.5" filter="url(#bA2)" opacity="0.8"/>
<path d="M150 256 L200 240 L250 242 L284 232 L284 274 L120 274Z" fill="#3c3c3c" opacity="0.85" filter="url(#bA4)"/>
</g>
</g>
<text x="224.6" y="253.7" font-size="17" text-anchor="start" fill="#fff" stroke="#fff">10 μm</text>
<rect x="239.3" y="259.8" width="23.4" height="2.6" fill="#fff"/>
<text x="19.8" y="335" font-size="24" text-anchor="start" fill="#000" stroke="#000">B</text>
<path d="M87.1 574.2 L88.3 574.15 L89.5 574.09 L90.7 573.94 L91.9 573.98 L93.1 574.29 L94.3 574.03 L95.5 574.1 L96.7 574.01 L97.9 573.85 L99.1 573.78 L100.3 573.53 L101.5 573.52 L102.7 573.49 L103.9 573.36 L105.1 573.27 L106.3 573.04 L107.5 573.14 L108.7 572.98 L109.9 573.02 L111.1 573.12 L112.3 572.64 L113.5 572.52 L114.7 572.61 L115.9 572.16 L117.1 572.5 L118.3 572.22 L119.5 572.15 L120.7 571.85 L121.9 571.76 L123.1 571.81 L124.3 571.68 L125.5 571.73 L126.7 571.75 L127.9 571.45 L129.1 571.29 L130.3 571.06 L131.5 570.96 L132.7 571.04 L133.9 570.93 L135.1 570.91 L136.3 570.85 L137.5 570.77 L138.7 570.24 L139.9 570.43 L141.1 570.31 L142.3 570.3 L143.5 569.96 L144.7 570.13 L145.9 569.87 L147.1 569.84 L148.3 569.59 L149.5 569.59 L150.7 569.56 L151.9 569.32 L153.1 569.16 L154.3 569.1 L155.5 568.97 L156.7 568.97 L157.9 568.83 L159.1 568.75 L160.3 568.6 L161.5 568.54 L162.7 568.53 L163.9 568.19 L165.1 568.14 L166.3 568.16 L167.5 567.8 L168.7 567.84 L169.9 567.61 L171.1 567.42 L172.3 567.37 L173.5 567.13 L174.7 567.29 L175.9 566.98 L177.1 566.99 L178.3 566.9 L179.5 566.74 L180.7 566.59 L181.9 566.43 L183.1 566.46 L184.3 566.1 L185.5 566.03 L186.7 566.15 L187.9 565.68 L189.1 565.51 L190.3 565.48 L191.5 565.52 L192.7 565.5 L193.9 565.13 L195.1 565.18 L196.3 564.87 L197.5 564.86 L198.7 564.65 L199.9 564.6 L201.1 564.43 L202.3 564.39 L203.5 564.06 L204.7 564.13 L205.9 563.97 L207.1 563.67 L208.3 563.92 L209.5 563.79 L210.7 563.4 L211.9 563.53 L213.1 563.04 L214.3 563.19 L215.5 563.11 L216.7 562.67 L217.9 562.6 L219.1 562.43 L220.3 562.42 L221.5 562.5 L222.7 562.05 L223.9 562.18 L225.1 561.93 L226.3 561.79 L227.5 561.79 L228.7 561.6 L229.9 561.53" fill="none" stroke="#6a6ca8" stroke-width="1.15" stroke-linejoin="round" stroke-linecap="round"/>
<path d="M87.1 574.2 L88.18 574.27 L89.26 574.23 L90.34 574.22 L91.42 573.88 L92.5 574.09 L93.58 573.41 L94.66 573.49 L95.74 573.15 L96.82 573 L97.9 572.58 L98.98 572.78 L100.06 572.36 L101.14 572.15 L102.22 571.75 L103.3 571.8 L104.38 571.47 L105.46 571.34 L106.54 571.02 L107.62 570.74 L108.7 570.72 L109.78 570.24 L110.86 570.05 L111.94 569.88 L113.02 569.62 L114.1 569.59 L115.18 569.31 L116.26 569.18 L117.34 568.89 L118.42 568.58 L119.5 568.51 L120.58 568.26 L121.66 568.07 L122.74 567.86 L123.82 567.6 L124.9 567.28 L125.98 567.17 L127.06 566.76 L128.14 566.35 L129.22 566.21 L130.3 566.07 L131.38 565.9 L132.46 565.64 L133.54 565.1 L134.62 565.05 L135.7 564.88 L136.78 564.54 L137.86 564.06 L138.94 564.05 L140.02 563.74 L141.1 563.53 L142.18 563.36 L143.26 563.2 L144.34 562.86 L145.42 562.6 L146.5 562.26 L147.58 561.98 L148.66 561.72 L149.74 561.55 L150.82 561.23 L151.9 561.18 L152.98 560.69 L154.06 560.53 L155.14 560.38 L156.22 560.04 L157.3 559.86 L158.38 559.47 L159.46 559.18 L160.54 558.86 L161.62 559.04 L162.7 558.8 L163.78 558.45 L164.86 558.13 L165.94 557.81 L167.02 557.63 L168.1 557.66 L169.18 557.22 L170.26 556.84 L171.34 556.67 L172.42 556.37 L173.5 556.24 L174.58 556 L175.66 555.71 L176.74 555.44 L177.82 555.23 L178.9 554.99 L179.98 554.84 L181.06 554.48 L182.14 554.27 L183.22 553.91 L184.3 553.66 L185.38 553.53 L186.46 553.36 L187.54 553.15 L188.62 552.78 L189.7 552.58 L190.78 552.39 L191.86 552.1 L192.94 551.94 L194.02 551.54 L195.1 551.44 L196.18 551 L197.26 550.86 L198.34 550.61 L199.42 550.57 L200.5 550.18 L201.58 549.88 L202.66 549.84 L203.74 549.53 L204.82 549.26 L205.9 549.18 L206.98 548.75 L208.06 548.45 L209.14 548.42 L210.22 548.04 L211.3 548 L212.38 547.61 L213.46 547.56 L214.54 547.05 L215.62 546.9" fill="none" stroke="#f2a57c" stroke-width="1.2" stroke-linejoin="round" stroke-linecap="round"/>
<path d="M87.1 574.2 L88.36 574.03 L89.62 574.12 L90.88 573.45 L92.14 573.57 L93.4 573.15 L94.66 572.64 L95.92 572.49 L97.18 572.12 L98.44 571.75 L99.7 571.22 L100.96 570.67 L102.22 570.58 L103.48 570.36 L104.74 569.82 L106 569.6 L107.26 569.18 L108.52 568.69 L109.78 568.56 L111.04 568.12 L112.3 567.87 L113.56 567.44 L114.82 567.04 L116.08 566.83 L117.34 566.4 L118.6 566.04 L119.86 565.74 L121.12 565.45 L122.38 565.13 L123.64 564.63 L124.9 564.3 L126.16 563.66 L127.42 563.86 L128.68 563.22 L129.94 562.85 L131.2 562.39 L132.46 562.14 L133.72 561.96 L134.98 561.51 L136.24 561.11 L137.5 560.86 L138.76 560.39 L140.02 560.36 L141.28 559.59 L142.54 559.28 L143.8 559.14 L145.06 558.69 L146.32 558.41 L147.58 558.17 L148.84 557.72 L150.1 557.27 L151.36 557.08 L152.62 556.74 L153.88 556.36 L155.14 555.96 L156.4 555.51 L157.66 555.4 L158.92 554.93 L160.18 554.63 L161.44 554.54 L162.7 554.04 L163.96 553.67 L165.22 553.33 L166.48 552.96 L167.74 552.91 L169 552.33 L170.26 552.09 L171.52 551.84 L172.78 551.28 L174.04 550.93 L175.3 550.76 L176.56 550.26 L177.82 550.07 L179.08 549.69 L180.34 549.49 L181.6 548.85 L182.86 549.01 L184.12 548.38 L185.38 547.96 L186.64 547.95 L187.9 547.4 L189.16 547.06 L190.42 546.62 L191.68 546.24 L192.94 546.11 L194.2 545.9 L195.46 545.26 L196.72 544.97 L197.98 544.85 L199.24 544.45 L200.5 544.14 L201.76 543.81 L203.02 543.54 L204.28 543.09 L205.54 543.15 L206.8 542.51 L208.06 542.28 L209.32 542.04 L210.58 541.57 L211.84 541.67 L213.1 540.95 L214.36 540.73 L215.62 540.6 L216.88 540.1 L218.14 539.88 L219.4 539.23 L220.66 539.01 L221.92 538.86 L223.18 538.69 L224.44 538.37 L225.7 538.03 L226.96 537.74 L228.22 537.47 L229.48 537.13 L230.74 536.78 L232 536.5 L233.26 536.21 L234.52 535.93 L235.78 535.27 L237.04 535.2" fill="none" stroke="#cc4c68" stroke-width="1.3" stroke-linejoin="round" stroke-linecap="round"/>
<path d="M87.1 574.2 L88.72 572.81 L90.34 572.15 L91.96 571.83 L93.58 570.46 L95.2 569.64 L96.82 568.71 L98.44 568.04 L100.06 567.01 L101.68 566.3 L103.3 565.71 L104.92 564.17 L106.54 563.3 L108.16 562.16 L109.78 561.8 L111.4 561.05 L113.02 560.21 L114.64 559.64 L116.26 557.97 L117.88 557.73 L119.5 556.87 L121.12 555.69 L122.74 554.28 L124.36 553.79 L125.98 553.32 L127.6 552.35 L129.22 551.07 L130.84 550.45 L132.46 549.77 L134.08 548.73 L135.7 547.56 L137.32 546.31 L138.94 546.46 L140.56 545.43 L142.18 544.66 L143.8 544.35 L145.42 543.09 L147.04 542.32 L148.66 540.86 L150.28 540.45 L151.9 540.12 L153.52 538.62 L155.14 538.13 L156.76 537.79 L158.38 536.69 L160 535.96 L161.62 535.35 L163.24 534.39 L164.86 534.43 L166.48 533.14 L168.1 532.07 L169.72 531.45 L171.34 530.69 L172.96 530.02 L174.58 529.24 L176.2 529.39 L177.82 528.13 L179.44 528.33 L181.06 527.3 L182.68 527.07 L184.3 525.51 L185.92 524.78 L187.54 524.62 L189.16 523.37 L190.78 523.5 L192.4 522.61 L194.02 522 L195.64 521.79 L197.26 520.74 L198.88 519.7 L200.5 520.06 L202.12 518.89 L203.74 518.65 L205.36 517.49 L206.98 517.32 L208.6 516.7 L210.22 516.13 L211.84 515.68 L213.46 515.6 L215.08 514.14 L216.7 514.4 L218.32 513.3 L219.94 512.58 L221.56 512.43 L223.18 511.52 L224.8 510.6 L226.42 510.37 L228.04 510.05 L229.66 510.11 L231.28 508.94 L232.9 508.27 L234.52 507.72 L236.14 507.32 L237.76 506.38 L239.38 506.14 L241 505.47 L242.62 504.69 L244.24 504.64 L245.86 503.94 L247.48 502.65 L249.1 502.54 L250.72 502.72 L252.34 501.84 L253.96 501.14 L255.58 500.44 L257.2 500.28 L258.82 500 L260.44 499.57 L262.06 498.64 L263.68 498.25 L265.3 498.01 L266.92 497.4 L268.54 496.97 L270.16 496.1 L271.78 496.03 L273.4 495.16 L275.02 494.54 L276.64 494.14 L278.26 494.15 L279.88 493.28" fill="none" stroke="#5fb5a3" stroke-width="1.15" stroke-linejoin="round" stroke-linecap="round"/>
<path d="M87.1 574.2 L88.48 571.5 L89.86 570.34 L91.24 567.78 L92.62 566.16 L94 564.56 L95.38 562.3 L96.76 559.94 L98.14 558.06 L99.52 556.56 L100.9 554.04 L102.28 552.29 L103.66 550.09 L105.04 548.02 L106.42 546.32 L107.8 543.62 L109.18 541.63 L110.56 538.66 L111.94 536.63 L113.32 534.55 L114.7 532.58 L116.08 529.96 L117.46 527.64 L118.84 525.77 L120.22 522.41 L121.6 520.69 L122.98 517.99 L124.36 516.58 L125.74 513.43 L127.12 512.07 L128.5 509.56 L129.88 506.89 L131.26 504.76 L132.64 503.22 L134.02 500.53 L135.4 497.64 L136.78 494.95 L138.16 493.04 L139.54 491.15 L140.92 488.59 L142.3 487 L143.68 484.32 L145.06 482.76 L146.44 480.2 L147.82 478.1 L149.2 475.67 L150.58 473.87 L151.96 471.26 L153.34 469.56 L154.72 467.09 L156.1 464.99 L157.48 463.78 L158.86 461.26 L160.24 459.42 L161.62 457.92 L163 455.93 L164.38 454.75 L165.76 452.43 L167.14 450.76 L168.52 449.14 L169.9 446.77 L171.28 445.74 L172.66 444.14 L174.04 442.72 L175.42 440.75 L176.8 439.54 L178.18 437.28 L179.56 436.35 L180.94 434.59 L182.32 432.51 L183.7 431.26 L185.08 430.04 L186.46 428.17 L187.84 427.11 L189.22 425.34 L190.6 424.08 L191.98 422.86 L193.36 420.95 L194.74 419.32 L196.12 418.25 L197.5 417.03 L198.88 415.41 L200.26 414.54 L201.64 412.54 L203.02 411.24 L204.4 408.82 L205.78 408.18 L207.16 407.04 L208.54 404.84 L209.92 403.74 L211.3 402.28 L212.68 400.89 L214.06 399.59 L215.44 398.51 L216.82 396.86 L218.2 395.76 L219.58 394.84 L220.96 393.5 L222.34 392.51 L223.72 390.89 L225.1 389.51 L226.48 388.3 L227.86 387.09 L229.24 386.14 L230.62 384.47 L232 383.92 L233.38 382.77 L234.76 381.83 L236.14 380.64 L237.52 379.69 L238.9 377.97 L240.28 377.52 L241.66 377.29 L243.04 376.07 L244.42 375.61 L245.8 374.14 L247.18 373.23 L248.56 373.05 L249.94 372.11 L251.32 371.4" fill="none" stroke="#4883b5" stroke-width="1.45" stroke-linejoin="round" stroke-linecap="round"/>
<path d="M246.38 366.1L256.98 376.7M246.38 376.7L256.98 366.1" stroke="#111" stroke-width="1.4" fill="none"/>
<path d="M275.15 487.59L285.75 498.19M275.15 498.19L285.75 487.59" stroke="#111" stroke-width="1.4" fill="none"/>
<path d="M232.45 530.1L243.05 540.69M232.45 540.69L243.05 530.1" stroke="#111" stroke-width="1.4" fill="none"/>
<path d="M210.32 541.8L220.92 552.39M210.32 552.39L220.92 541.8" stroke="#111" stroke-width="1.4" fill="none"/>
<path d="M224.6 556.42L235.2 567.02M224.6 567.02L235.2 556.42" stroke="#111" stroke-width="1.4" fill="none"/>
<line x1="96.7" y1="354" x2="129.4" y2="354" stroke="#6a6ca8" stroke-width="1.15"/>
<text x="133.3" y="359.1" font-size="14.3" text-anchor="start" fill="#000" stroke="#000">500 μm</text>
<line x1="96.7" y1="372.9" x2="129.4" y2="372.9" stroke="#f2a57c" stroke-width="1.15"/>
<text x="133.3" y="378" font-size="14.3" text-anchor="start" fill="#000" stroke="#000">90 μm</text>
<line x1="96.7" y1="390.9" x2="129.4" y2="390.9" stroke="#cc4c68" stroke-width="1.15"/>
<text x="133.3" y="396" font-size="14.3" text-anchor="start" fill="#000" stroke="#000">50 μm</text>
<line x1="96.7" y1="408.6" x2="129.4" y2="408.6" stroke="#5fb5a3" stroke-width="1.15"/>
<text x="133.3" y="413.7" font-size="14.3" text-anchor="start" fill="#000" stroke="#000">20 μm</text>
<line x1="96.7" y1="426.4" x2="129.4" y2="426.4" stroke="#4883b5" stroke-width="1.15"/>
<text x="133.3" y="431.5" font-size="14.3" text-anchor="start" fill="#000" stroke="#000">10 μm</text>
<path d="M255.2 421 L264 421 Q260.6 433.5 264 446 L255.2 446 Q258.6 433.5 255.2 421Z" fill="#f5c6a5"/>
<rect x="248.7" y="410" width="20.9" height="11.6" fill="#a9c0ea"/>
<rect x="248.7" y="445" width="20.9" height="11.5" fill="#a9c0ea"/>
<path d="M259.6 397.2 L264.4 401.8 L261.8 401.8 L261.8 405.2 L257.4 405.2 L257.4 401.8 L254.8 401.8Z" fill="#c55a11"/>
<path d="M259.6 466.6 L264.4 462 L261.8 462 L261.8 458.6 L257.4 458.6 L257.4 462 L254.8 462Z" fill="#c55a11"/>
<rect x="87.1" y="340.2" width="214.2" height="234" fill="none" stroke="#2b2b2b" stroke-width="1.2"/>
<path d="M87.1 574.2v3.2M122.8 574.2v3.2M158.5 574.2v3.2M194.2 574.2v3.2M229.9 574.2v3.2M265.6 574.2v3.2M301.3 574.2v3.2M104.95 574.2v1.8M140.65 574.2v1.8M176.35 574.2v1.8M212.05 574.2v1.8M247.75 574.2v1.8M283.45 574.2v1.8M87.1 574.2h-3.2M87.1 535.2h-3.2M87.1 496.2h-3.2M87.1 457.2h-3.2M87.1 418.2h-3.2M87.1 379.2h-3.2M87.1 340.2h-3.2M87.1 554.7h-1.8M87.1 515.7h-1.8M87.1 476.7h-1.8M87.1 437.7h-1.8M87.1 398.7h-1.8M87.1 359.7h-1.8" stroke="#2b2b2b" stroke-width="1.1" fill="none"/>
<text x="87.1" y="591.5" font-size="15" text-anchor="middle" fill="#000" stroke="#000">0</text>
<text x="122.8" y="591.5" font-size="15" text-anchor="middle" fill="#000" stroke="#000">50</text>
<text x="158.5" y="591.5" font-size="15" text-anchor="middle" fill="#000" stroke="#000">100</text>
<text x="194.2" y="591.5" font-size="15" text-anchor="middle" fill="#000" stroke="#000">150</text>
<text x="229.9" y="591.5" font-size="15" text-anchor="middle" fill="#000" stroke="#000">200</text>
<text x="265.6" y="591.5" font-size="15" text-anchor="middle" fill="#000" stroke="#000">250</text>
<text x="301.3" y="591.5" font-size="15" text-anchor="middle" fill="#000" stroke="#000">300</text>
<text x="82" y="578.8" font-size="15" text-anchor="end" fill="#000" stroke="#000">0</text>
<text x="82" y="539.8" font-size="15" text-anchor="end" fill="#000" stroke="#000">200</text>
<text x="82" y="500.8" font-size="15" text-anchor="end" fill="#000" stroke="#000">400</text>
<text x="82" y="461.8" font-size="15" text-anchor="end" fill="#000" stroke="#000">600</text>
<text x="82" y="422.8" font-size="15" text-anchor="end" fill="#000" stroke="#000">800</text>
<text x="82" y="383.8" font-size="15" text-anchor="end" fill="#000" stroke="#000">1000</text>
<text x="82" y="344.8" font-size="15" text-anchor="end" fill="#000" stroke="#000">1200</text>
<text x="194.4" y="617" font-size="15.9" text-anchor="middle" fill="#000" stroke="#000">Strain (%)</text>
<text transform="translate(43.2 457.4) rotate(-90)" font-size="15.8" text-anchor="middle" fill="#000" stroke="#000">Stress (kPa)</text>
<text x="311.2" y="33.5" font-size="24.6" text-anchor="start" fill="#000" stroke="#000">C</text>
<path d="M380.6 77.45 L381.6 77.2 L382.6 77.86 L383.6 77.51 L384.59 76.9 L385.59 76.9 L386.59 78.12 L387.59 77.99 L388.59 78.24 L389.59 77.62 L390.59 78.28 L391.59 77.6 L392.58 77.29 L393.58 77.88 L394.58 77.25 L395.58 77.38 L396.58 78.28 L397.58 77.43 L398.58 77.91 L399.57 77.66 L400.57 77.87 L401.57 77.22 L402.57 77.62 L403.57 78.07 L404.57 77.46 L405.57 77.08 L406.57 77.84 L407.56 77.97 L408.56 77.71 L409.56 76.83 L410.56 76.77 L411.56 77.25 L412.56 76.89 L413.56 76.98 L414.56 77.72 L415.55 78.18 L416.55 77.28 L417.55 77.44 L418.55 77.75 L419.55 77.96 L420.55 77.68 L421.55 77.58 L422.54 77.89 L423.54 77.86 L424.54 77.6 L425.54 76.95 L426.54 77.39 L427.54 77.87 L428.54 77.88 L429.54 77.6 L430.53 78 L431.53 78 L432.53 77.51 L433.53 78.18 L434.53 77.55 L435.53 77.75 L436.53 77.2 L437.52 77.14 L438.52 77.22 L439.52 77.23 L440.52 77.73 L441.52 77.26 L442.52 77.78 L443.52 77.41 L444.52 77.8 L445.51 77.62 L446.51 78.22 L447.51 77.94 L448.51 76.78 L449.51 77.96 L450.51 77.22 L451.51 77.29 L452.5 77.17 L453.5 77.57 L454.5 77.37 L455.5 78.22 L456.5 78.21 L457.5 78.01 L458.5 78.08 L459.5 78.16 L460.49 78.12 L461.49 77.44 L462.49 78.02 L463.49 76.81 L464.49 77.24 L465.49 77.46 L466.49 77.2 L467.49 77.9 L468.48 76.85 L469.48 76.99 L470.48 77.17 L471.48 77.56 L472.48 76.98 L473.48 77.14 L474.48 77.27 L475.47 76.87 L476.47 77.32 L477.47 77.74 L478.47 77.44 L479.47 78.01 L480.47 78.02 L481.47 77.17 L482.47 77.08 L483.46 76.78 L484.46 76.97 L485.46 77.46 L486.46 78.18 L487.46 77.55 L488.46 76.85 L489.46 77.07 L490.45 77.55 L491.45 77.6 L492.45 77.98 L493.45 78.04 L494.45 78.21 L495.45 76.9 L496.45 77.31 L497.45 78.09 L498.44 77.66 L499.44 78.24 L500.44 77.99 L501.44 77.16 L502.44 77.29 L503.44 77.56 L504.44 77.89 L505.43 77.29 L506.43 76.8 L507.43 77.63 L508.43 78.21 L509.43 78.23 L510.43 78.19 L511.43 76.8 L512.43 77.46 L513.42 76.99 L514.42 78.05 L515.42 77.91 L516.42 77.22 L517.42 76.9 L518.42 77.78 L519.42 78.22 L520.41 76.95 L521.41 77.86 L522.41 77.14 L523.41 78.07 L524.41 77.22 L525.41 76.99 L526.41 77.17 L527.41 77.75 L528.4 77.17 L529.4 78.1 L530.4 77.82 L531.4 77.66 L532.4 76.93 L533.4 78.08 L534.4 76.92 L535.4 77.05 L536.39 76.78 L537.39 77.74 L538.39 78 L539.39 77.94 L540.39 77.01 L541.39 76.79 L542.39 77.22 L543.38 77.58 L544.38 78.78 L545.38 78.21 L546.38 78.88 L547.38 81.49 L548.38 83.11 L549.38 83.69 L550.38 84.1 L551.37 83.97 L552.37 82.25 L553.37 80.32 L554.37 79.07 L555.37 79.34 L556.37 78.26 L557.37 79.39 L558.36 80.25 L559.36 82.71 L560.36 82.84 L561.36 83.42 L562.36 83.11 L563.36 80.57 L564.36 79.55 L565.36 78.5 L566.35 79.6 L567.35 80.04 L568.35 79.98 L569.35 82.05 L570.35 82.81 L571.35 83.58 L572.35 81.46 L573.34 80.91 L574.34 79.34 L575.34 80.21 L576.34 80.04 L577.34 81.71 L578.34 81.37 L579.34 82.37 L580.34 82.41 L581.33 81.3 L582.33 79.49 L583.33 79.52 L584.33 79 L585.33 78.5 L586.33 78.48 L587.33 78.66 L588.33 79.37 L589.32 81.08 L590.32 82.3 L591.32 84.22 L592.32 84.12 L593.32 82.22 L594.32 81.71 L595.32 80.42 L596.31 80.03 L597.31 80.16 L598.31 81.94 L599.31 82.8 L600.31 82.33 L601.31 82.15 L602.31 80.2 L603.31 78.98 L604.3 78.66 L605.3 78.16 L606.3 78.53 L607.3 79.05 L607.3 232.85 L606.3 231.48 L605.3 231.4 L604.3 229.5 L603.31 229.96 L602.31 230.61 L601.31 231.26 L600.31 231.93 L599.31 232.65 L598.31 233.88 L597.31 232.38 L596.31 230.58 L595.32 228.86 L594.32 228.05 L593.32 228.78 L592.32 229.04 L591.32 230.08 L590.32 232.41 L589.32 233.1 L588.33 233.58 L587.33 233.43 L586.33 233.84 L585.33 232.73 L584.33 232.46 L583.33 231.91 L582.33 230.3 L581.33 229.56 L580.34 228.85 L579.34 228.48 L578.34 230.06 L577.34 231.04 L576.34 233.38 L575.34 233.8 L574.34 232.67 L573.34 232.87 L572.35 233 L571.35 231.7 L570.35 230.93 L569.35 229.78 L568.35 230.28 L567.35 230.95 L566.35 231.69 L565.36 232.19 L564.36 232.23 L563.36 230.57 L562.36 228.45 L561.36 227.39 L560.36 228.05 L559.36 229.94 L558.36 230.73 L557.37 232.64 L556.37 233.37 L555.37 233.12 L554.37 232.97 L553.37 232.54 L552.37 231.62 L551.37 229.94 L550.38 228.65 L549.38 227.28 L548.38 228.23 L547.38 229.53 L546.38 231.53 L545.38 233.28 L544.38 233.34 L543.38 234.42 L542.39 234.19 L541.39 235.01 L540.39 234.53 L539.39 234.97 L538.39 234.11 L537.39 235.06 L536.39 235.2 L535.4 234.26 L534.4 235.65 L533.4 234.23 L532.4 235.42 L531.4 235.05 L530.4 234.47 L529.4 235.2 L528.4 235.2 L527.41 234.56 L526.41 234.68 L525.41 234.71 L524.41 235.4 L523.41 234.62 L522.41 235.63 L521.41 235.04 L520.41 235.12 L519.42 235.15 L518.42 235.34 L517.42 234.68 L516.42 234.99 L515.42 234.2 L514.42 235.35 L513.42 234.76 L512.43 234.36 L511.43 234.08 L510.43 235.04 L509.43 235.66 L508.43 234.93 L507.43 234.82 L506.43 234.8 L505.43 234.51 L504.44 235.36 L503.44 235.47 L502.44 235.6 L501.44 235.45 L500.44 234.16 L499.44 234.1 L498.44 235 L497.45 234.79 L496.45 235.59 L495.45 234.75 L494.45 235.12 L493.45 234.17 L492.45 234.79 L491.45 234.5 L490.45 234.76 L489.46 234.48 L488.46 235.6 L487.46 234.49 L486.46 235.19 L485.46 235.59 L484.46 234.08 L483.46 234.81 L482.47 235.44 L481.47 234.44 L480.47 234.18 L479.47 235.24 L478.47 234.68 L477.47 234.79 L476.47 234.48 L475.47 235.04 L474.48 234.25 L473.48 234.89 L472.48 234.36 L471.48 234.76 L470.48 234.85 L469.48 235.32 L468.48 235.33 L467.49 235.66 L466.49 235.45 L465.49 235.5 L464.49 234.98 L463.49 235.52 L462.49 234.57 L461.49 234.82 L460.49 234.95 L459.5 234.29 L458.5 234.78 L457.5 234.8 L456.5 234.63 L455.5 234.75 L454.5 234.66 L453.5 235.53 L452.5 234.1 L451.51 234.41 L450.51 234.59 L449.51 234.89 L448.51 234.7 L447.51 235.55 L446.51 235.47 L445.51 234.82 L444.52 235.39 L443.52 234.46 L442.52 235.48 L441.52 234.76 L440.52 234.86 L439.52 234.3 L438.52 234.2 L437.52 235.27 L436.53 234.24 L435.53 234.41 L434.53 234.6 L433.53 234.24 L432.53 235.2 L431.53 235 L430.53 234.87 L429.54 234.91 L428.54 234.5 L427.54 235.01 L426.54 234.53 L425.54 235.58 L424.54 235.12 L423.54 234.23 L422.54 235.27 L421.55 235.32 L420.55 234.19 L419.55 234.28 L418.55 234.86 L417.55 235.49 L416.55 234.43 L415.55 234.93 L414.56 234.6 L413.56 234.96 L412.56 234.59 L411.56 234.29 L410.56 235.6 L409.56 234.35 L408.56 235.39 L407.56 234.3 L406.57 234.93 L405.57 234.66 L404.57 234.5 L403.57 234.9 L402.57 234.12 L401.57 234.1 L400.57 235.2 L399.57 235.57 L398.58 234.54 L397.58 235.27 L396.58 235.66 L395.58 235 L394.58 235.6 L393.58 234.69 L392.58 234.77 L391.59 234.55 L390.59 235.44 L389.59 235.23 L388.59 234.18 L387.59 235.01 L386.59 235.25 L385.59 234.37 L384.59 235.3 L383.6 235.45 L382.6 234.72 L381.6 235.08 L380.6 234.97Z" fill="#70a4d3"/>
<path d="M471.3 252.4 L471.3 61 L479.3 61 L479.3 252.4" fill="none" stroke="#375a92" stroke-width="1.4" stroke-dasharray="4.2 3"/>
<path d="M471.3 252.4 L381.7 342.3 M479.3 252.4 L604.3 342.3" fill="none" stroke="#5577ae" stroke-width="1.5" stroke-dasharray="4.6 3.2"/>
<rect x="380.6" y="37" width="226.7" height="238.4" fill="none" stroke="#2b2b2b" stroke-width="1.2"/>
<path d="M380.6 275.4v3.2M425.94 275.4v3.2M471.28 275.4v3.2M516.62 275.4v3.2M561.96 275.4v3.2M607.3 275.4v3.2M403.27 275.4v1.8M448.61 275.4v1.8M493.95 275.4v1.8M539.29 275.4v1.8M584.63 275.4v1.8M380.6 275.4h-3.2M380.6 235.67h-3.2M380.6 195.93h-3.2M380.6 156.2h-3.2M380.6 116.47h-3.2M380.6 76.73h-3.2M380.6 37h-3.2M380.6 255.53h-1.8M380.6 215.8h-1.8M380.6 176.07h-1.8M380.6 136.33h-1.8M380.6 96.6h-1.8M380.6 56.87h-1.8" stroke="#2b2b2b" stroke-width="1.1" fill="none"/>
<text x="380.6" y="293" font-size="15" text-anchor="middle" fill="#000" stroke="#000">0</text>
<text x="425.94" y="293" font-size="15" text-anchor="middle" fill="#000" stroke="#000">500</text>
<text x="471.28" y="293" font-size="15" text-anchor="middle" fill="#000" stroke="#000">1000</text>
<text x="516.62" y="293" font-size="15" text-anchor="middle" fill="#000" stroke="#000">1500</text>
<text x="561.96" y="293" font-size="15" text-anchor="middle" fill="#000" stroke="#000">2000</text>
<text x="607.3" y="293" font-size="15" text-anchor="middle" fill="#000" stroke="#000">2500</text>
<text x="373.7" y="280.3" font-size="15" text-anchor="end" fill="#000" stroke="#000">-50</text>
<text x="373.7" y="240.57" font-size="15" text-anchor="end" fill="#000" stroke="#000">0</text>
<text x="373.7" y="200.83" font-size="15" text-anchor="end" fill="#000" stroke="#000">50</text>
<text x="373.7" y="161.1" font-size="15" text-anchor="end" fill="#000" stroke="#000">100</text>
<text x="373.7" y="121.37" font-size="15" text-anchor="end" fill="#000" stroke="#000">150</text>
<text x="373.7" y="81.63" font-size="15" text-anchor="end" fill="#000" stroke="#000">200</text>
<text x="373.7" y="41.9" font-size="15" text-anchor="end" fill="#000" stroke="#000">250</text>
<text x="494.2" y="319.5" font-size="16.4" text-anchor="middle" fill="#000" stroke="#000">Time (s)</text>
<text transform="translate(343.6 156.3) rotate(-90)" font-size="15.8" text-anchor="middle" fill="#000" stroke="#000">Strain (%)</text>
<text x="314.6" y="335.2" font-size="24" text-anchor="start" fill="#000" stroke="#000">D</text>
<path d="M381.3 390.74 L387 532.95 L393.01 384.49 L399.01 537.63 L405.02 383.71 L411.02 533.73 L417.02 384.49 L423.03 537.63 L429.03 383.71 L435.04 532.95 L441.04 386.84 L447.05 536.85 L453.05 382.15 L459.05 534.51 L465.06 386.84 L471.06 536.07 L477.07 381.37 L483.07 534.51 L489.08 388.4 L495.08 534.51 L501.08 382.15 L507.09 536.85 L513.09 386.84 L519.1 532.95 L525.1 382.93 L531.11 537.63 L537.11 386.05 L543.11 532.16 L549.12 383.71 L555.12 537.63 L561.13 384.49 L567.13 531.38 L573.14 384.49 L579.14 537.63 L585.14 383.71 L591.15 532.95 L597.15 386.84 L603.16 543.88" fill="none" stroke="#7aadd6" stroke-width="1.15" stroke-linejoin="round" stroke-linecap="round" stroke-linejoin="miter"/>
<rect x="381.3" y="342.3" width="223" height="234.4" fill="none" stroke="#2b2b2b" stroke-width="1.2"/>
<path d="M381.3 576.7v3.2M425.9 576.7v3.2M470.5 576.7v3.2M515.1 576.7v3.2M559.7 576.7v3.2M604.3 576.7v3.2M403.6 576.7v1.8M448.2 576.7v1.8M492.8 576.7v1.8M537.4 576.7v1.8M582 576.7v1.8M381.3 576.7h-3.2M381.3 537.63h-3.2M381.3 498.57h-3.2M381.3 459.5h-3.2M381.3 420.43h-3.2M381.3 381.37h-3.2M381.3 342.3h-3.2M381.3 557.17h-1.8M381.3 518.1h-1.8M381.3 479.03h-1.8M381.3 439.97h-1.8M381.3 400.9h-1.8M381.3 361.83h-1.8" stroke="#2b2b2b" stroke-width="1.1" fill="none"/>
<text x="381.3" y="594.6" font-size="15" text-anchor="middle" fill="#000" stroke="#000">1000</text>
<text x="425.9" y="594.6" font-size="15" text-anchor="middle" fill="#000" stroke="#000">1020</text>
<text x="470.5" y="594.6" font-size="15" text-anchor="middle" fill="#000" stroke="#000">1040</text>
<text x="515.1" y="594.6" font-size="15" text-anchor="middle" fill="#000" stroke="#000">1060</text>
<text x="559.7" y="594.6" font-size="15" text-anchor="middle" fill="#000" stroke="#000">1080</text>
<text x="604.3" y="594.6" font-size="15" text-anchor="middle" fill="#000" stroke="#000">1100</text>
<text x="375.1" y="581.5" font-size="15" text-anchor="end" fill="#000" stroke="#000">-50</text>
<text x="375.1" y="542.43" font-size="15" text-anchor="end" fill="#000" stroke="#000">0</text>
<text x="375.1" y="503.37" font-size="15" text-anchor="end" fill="#000" stroke="#000">50</text>
<text x="375.1" y="464.3" font-size="15" text-anchor="end" fill="#000" stroke="#000">100</text>
<text x="375.1" y="425.23" font-size="15" text-anchor="end" fill="#000" stroke="#000">150</text>
<text x="375.1" y="386.17" font-size="15" text-anchor="end" fill="#000" stroke="#000">200</text>
<text x="375.1" y="347.1" font-size="15" text-anchor="end" fill="#000" stroke="#000">250</text>
<text x="493" y="620" font-size="16.4" text-anchor="middle" fill="#000" stroke="#000">Time (s)</text>
<text transform="translate(344.8 459.8) rotate(-90)" font-size="15.8" text-anchor="middle" fill="#000" stroke="#000">Strain (%)</text>
<text x="633.2" y="32.8" font-size="24" text-anchor="start" fill="#000" stroke="#000">E</text>
<path d="M711.3 261.2 L711.72 232.35 L712.13 223.73 L712.54 221.43 L712.96 216.48 L713.37 214.59 L713.78 212.19 L714.19 208.49 L714.61 203.57 L715.02 206.56 L715.43 205.39 L715.85 203.14 L716.26 197.9 L716.67 196.55 L717.09 202.12 L717.5 201.28 L717.91 195.22 L718.32 192.52 L718.74 195.73 L719.15 195.11 L719.56 186.99 L719.98 190.57 L720.39 187.02 L720.8 182.28 L721.22 182.89 L721.63 183.75 L722.04 180.1 L722.45 182.79 L722.87 179.53 L723.28 180.93 L723.69 177.82 L724.11 177.32 L724.52 176.3 L724.93 175.75 L725.35 173.8 L725.76 173.85 L726.17 175 L726.58 171.9 L727 178.77 L727.41 170.35 L727.82 174.76 L728.24 179.23 L728.65 177.58 L729.06 178.01 L729.48 175.77 L729.89 180.66 L730.3 178.87 L730.71 181.26 L731.13 187.5 L731.54 186.09 L731.95 180.87 L732.37 181.21 L732.78 179.78 L733.19 182.28 L733.61 184.07 L734.02 185.73 L734.43 183.42 L734.84 188.79 L735.26 188.96 L735.67 188.43 L736.08 195.79 L736.5 188.57 L736.91 195.57 L737.32 194.56 L737.74 187.56 L738.15 196.85 L738.56 197.56 L738.97 191.62 L739.39 199.24 L739.8 196.23 L740.21 194.05 L740.63 194.94 L741.04 194.25 L741.45 195.64 L741.87 191.93 L742.28 192.72 L742.69 194.69 L743.1 198.42 L743.52 199.02 L743.93 203.22 L744.34 195.81 L744.76 203.66 L745.17 195.43 L745.58 193.86 L746 201.92 L746.41 201.77 L746.82 201.63 L747.23 197.77 L747.65 202.21 L748.06 199.43 L748.47 200.92 L748.89 200.18 L749.3 194.63 L749.71 201.14 L750.13 197.62 L750.54 195.87 L750.95 195.64 L751.36 200.24 L751.78 192.7 L752.19 190.88 L752.6 187.96 L753.02 189.23 L753.43 192.53 L753.84 187.18 L754.26 181.18 L754.67 180.29 L755.08 179.03 L755.49 171.79 L755.91 171.4 L756.32 179.98 L756.73 174.95 L757.15 186.49 L757.56 186.97 L757.97 180.41 L758.39 184.43 L758.8 183.16 L759.21 184.37 L759.62 188.18 L760.04 185.93 L760.45 188.72 L760.86 195.03 L761.28 189.23 L761.69 189.22 L762.1 183.38 L762.51 190.22 L762.93 186.55 L763.34 185.61 L763.75 184.11 L764.17 176.81 L764.58 179.83 L764.99 183.47 L765.41 180.44 L765.82 177.66 L766.23 183.88 L766.64 181.18 L767.06 177.7 L767.47 178.83 L767.88 180.86 L768.3 180.87 L768.71 177.49 L769.12 179.59 L769.54 173.07 L769.95 173.54 L770.36 173.08 L770.77 174.8 L771.19 173.5 L771.6 171.3 L772.01 172.37 L772.43 174.27 L772.84 173.31 L773.25 172.23 L773.67 176.72 L774.08 176.19 L774.49 177.57 L774.9 179.3 L775.32 174.79 L775.73 176.12 L776.14 177.94 L776.56 183.3 L776.97 182.79 L777.38 179.05 L777.8 180.5 L778.21 179.71 L778.62 180.8 L779.03 175.1 L779.45 171.29 L779.86 172.43 L780.27 170.28 L780.69 174.9 L781.1 173.24 L781.51 176.15 L781.93 173.35 L782.34 177.66 L782.75 179.12 L783.16 180.69 L783.58 175.96 L783.99 177.47 L784.4 175.97 L784.82 179.19 L785.23 175.99 L785.64 180.15 L786.06 171.19 L786.47 175.15 L786.88 172.84 L787.29 175.35 L787.71 179.59 L788.12 180.13 L788.53 177.15 L788.95 173.24 L789.36 180.44 L789.77 179.33 L790.19 177.74 L790.6 183.29 L791.01 183.37 L791.42 179.69 L791.84 179.27 L792.25 181.06 L792.66 175.55 L793.08 180.32 L793.49 178.95 L793.9 175.86 L794.32 175.03 L794.73 183.69 L795.14 180.14 L795.55 174.64 L795.97 181.1 L796.38 179.17 L796.79 180.76 L797.21 180.51 L797.62 178.57 L798.03 174.98 L798.45 171.77 L798.86 171.95 L799.27 176.88 L799.68 183.12 L800.1 176.65 L800.51 176.58 L800.92 176.21 L801.34 179.88 L801.75 183.84 L802.16 178.22 L802.58 184.17 L802.99 181.14 L803.4 177.17 L803.81 178.55 L804.23 175.1 L804.64 185.32 L805.05 174.63 L805.47 174.59 L805.88 175.74 L806.29 172.93 L806.71 176.35 L807.12 171.97 L807.53 172.61 L807.94 176.27 L808.36 175.52 L808.77 174.91 L809.18 175.56 L809.6 171.71 L810.01 173.73 L810.42 171.37 L810.84 171.18 L811.25 172.34 L811.66 173.92 L812.07 174.5 L812.49 173.13 L812.9 171.62 L813.31 167.13 L813.73 171.62 L814.14 168.25 L814.55 167.3 L814.96 168.95 L815.38 167.2 L815.79 163.17 L816.2 162.71 L816.62 170.63 L817.03 168.76 L817.44 167.87 L817.86 166.13 L818.27 159.91 L818.68 161.93 L819.09 159.95 L819.51 157.15 L819.92 163.31 L820.33 161.39 L820.75 160.38 L821.16 157.17 L821.57 160.12 L821.99 157.17 L822.4 154.78 L822.81 155.03 L823.22 155.52 L823.64 159.25 L824.05 162.15 L824.46 156.43 L824.88 159.38 L825.29 164.55 L825.7 164.75 L826.12 166.17 L826.53 168.68 L826.94 163.52 L827.35 165.81 L827.77 166.65 L828.18 164.81 L828.59 168.47 L829.01 165.74 L829.42 167.22 L829.83 169.3 L830.25 170.17 L830.66 166.94 L831.07 174.52 L831.48 168.12 L831.9 176.65 L832.31 173.05 L832.72 175.94 L833.14 178.24 L833.55 183.08 L833.96 169.58 L834.38 177.19 L834.79 175.83 L835.2 173.04 L835.61 171.02 L836.03 170.37 L836.44 172.29 L836.85 175.1 L837.27 167.99 L837.68 172.46 L838.09 168.27 L838.51 166.08 L838.92 162.94 L839.33 167.2 L839.74 166.47 L840.16 164.38 L840.57 166.77 L840.98 162.69 L841.4 163.02 L841.81 161.71 L842.22 157.83 L842.64 159.64 L843.05 155 L843.46 155.12 L843.87 167.19 L844.29 161.79 L844.7 164.4 L845.11 158.69 L845.53 160.41 L845.94 157.1 L846.35 159.36 L846.77 156.69 L847.18 158.44 L847.59 162.51 L848 158.58 L848.42 157.69 L848.83 155.76 L849.24 155.46 L849.66 146.82 L850.07 149.36 L850.48 144.26 L850.9 148.16 L851.31 140.1 L851.72 149.57 L852.13 143.89 L852.55 151.43 L852.96 146.44 L853.37 144.58 L853.79 155.99 L854.2 152.37 L854.61 148.73 L855.03 151.53 L855.44 154.54 L855.85 146.44 L856.26 146.79 L856.68 141.08 L857.09 141.33 L857.5 141.55 L857.92 134.91 L858.33 126.74 L858.74 131.3 L859.16 123.6 L859.57 115.87 L859.98 113.99 L860.39 117.33 L860.81 125.2 L861.22 117.03 L861.63 125.78 L862.05 126.82 L862.46 127.17 L862.87 129.57 L863.29 135.11 L863.7 134.64 L864.11 129.44 L864.52 137.51 L864.94 141.74 L865.35 133.59 L865.76 133.78 L866.18 133.1 L866.59 129.64 L867 134.52 L867.41 129.54 L867.83 127.43 L868.24 124.74 L868.65 125.23 L869.07 130.79 L869.48 132.23 L869.89 128.56 L870.31 130.83 L870.72 122.84 L871.13 125.51 L871.54 124.8 L871.96 125.6 L872.37 116.35 L872.78 116.7 L873.2 122.56 L873.61 124.39 L874.02 135.13 L874.44 172.27 L874.85 172.09 L875.26 177.2 L875.67 170.4 L876.09 166.49 L876.5 168.17 L876.91 171.42 L877.33 174.32 L877.74 169.43" fill="none" stroke="#1f4f7d" stroke-width="2.6" stroke-linejoin="round" stroke-linecap="round"/>
<path d="M711.3 261.2 L711.72 235.93 L712.13 226.45 L712.54 226.79 L712.96 222.09 L713.37 224.54 L713.78 219.79 L714.19 218.84 L714.61 220.26 L715.02 208.41 L715.43 217.79 L715.85 213.33 L716.26 210.09 L716.67 215.79 L717.09 208.02 L717.5 210.41 L717.91 206.64 L718.32 208.92 L718.74 207.6 L719.15 197.62 L719.56 198.62 L719.98 198.9 L720.39 197.24 L720.8 196.81 L721.22 202.89 L721.63 203.73 L722.04 202.06 L722.45 203.29 L722.87 205.24 L723.28 200.73 L723.69 199.55 L724.11 197.9 L724.52 197.97 L724.93 199.21 L725.35 199.71 L725.76 199.5 L726.17 202.38 L726.58 203.43 L727 202.36 L727.41 205.66 L727.82 205.71 L728.24 204.68 L728.65 201.53 L729.06 204.3 L729.48 206.65 L729.89 206.5 L730.3 203.9 L730.71 195.67 L731.13 209.57 L731.54 197.93 L731.95 197.1 L732.37 192.97 L732.78 198.85 L733.19 187.21 L733.61 189.62 L734.02 190.11 L734.43 188.63 L734.84 189.57 L735.26 187.3 L735.67 186.65 L736.08 182.89 L736.5 183.29 L736.91 183.98 L737.32 179.08 L737.74 178.74 L738.15 178.95 L738.56 184.03 L738.97 174.15 L739.39 180.13 L739.8 177.62 L740.21 174.36 L740.63 173.44 L741.04 171.94 L741.45 182.29 L741.87 175.52 L742.28 175.35 L742.69 183.63 L743.1 182.84 L743.52 185.43 L743.93 185.72 L744.34 187.76 L744.76 191.3 L745.17 186.58 L745.58 183.78 L746 180.21 L746.41 189.42 L746.82 193.57 L747.23 187.97 L747.65 190.83 L748.06 188.68 L748.47 190.91 L748.89 195.76 L749.3 194.43 L749.71 190.74 L750.13 190.87 L750.54 193.22 L750.95 188.25 L751.36 195.09 L751.78 191.86 L752.19 188.64 L752.6 192.7 L753.02 191.32 L753.43 187.68 L753.84 188.63 L754.26 190.5 L754.67 191.21 L755.08 191.83 L755.49 191.18 L755.91 179.57 L756.32 188.56 L756.73 183.94 L757.15 189.93 L757.56 184.14 L757.97 183.64 L758.39 185.43 L758.8 188.83 L759.21 191.1 L759.62 184.67 L760.04 190.85 L760.45 188.74 L760.86 180.45 L761.28 180.06 L761.69 184.99 L762.1 184.78 L762.51 184.57 L762.93 180.72 L763.34 182.3 L763.75 185.27 L764.17 183.67 L764.58 180.41 L764.99 185.31 L765.41 182.02 L765.82 177.27 L766.23 171.65 L766.64 174.86 L767.06 174.66 L767.47 167.24 L767.88 174.5 L768.3 172.6 L768.71 166.84 L769.12 164.27 L769.54 166.11 L769.95 174.75 L770.36 165.74 L770.77 166.54 L771.19 171.43 L771.6 170.67 L772.01 169.23 L772.43 174.85 L772.84 177.38 L773.25 180.2 L773.67 176.03 L774.08 177.42 L774.49 177.64 L774.9 178.14 L775.32 174.56 L775.73 174.05 L776.14 174.47 L776.56 179.37 L776.97 173.43 L777.38 175.15 L777.8 183.07 L778.21 172.96 L778.62 180.58 L779.03 177.42 L779.45 170.85 L779.86 172.55 L780.27 175.11 L780.69 175.84 L781.1 170.32 L781.51 176.41 L781.93 168.74 L782.34 170.29 L782.75 166.9 L783.16 168.08 L783.58 167.56 L783.99 162.77 L784.4 162.3 L784.82 163.79 L785.23 161.06 L785.64 160.16 L786.06 156.17 L786.47 153.02 L786.88 156.81 L787.29 160.79 L787.71 159.81 L788.12 157.83 L788.53 156.53 L788.95 163.9 L789.36 161.38 L789.77 162.64 L790.19 168.14 L790.6 163.87 L791.01 162.36 L791.42 162.89 L791.84 162.11 L792.25 163.17 L792.66 158.71 L793.08 161.42 L793.49 162.15 L793.9 156.38 L794.32 160.59 L794.73 155.71 L795.14 160.4 L795.55 154.69 L795.97 161.63 L796.38 161.85 L796.79 156.65 L797.21 155.11 L797.62 163.25 L798.03 155.85 L798.45 156.78 L798.86 158.47 L799.27 162.11 L799.68 168.73 L800.1 167.17 L800.51 165.96 L800.92 162.91 L801.34 164.85 L801.75 166.78 L802.16 166.4 L802.58 171.5 L802.99 164.06 L803.4 168.86 L803.81 162.98 L804.23 164.89 L804.64 166.9 L805.05 164.32 L805.47 167.98 L805.88 162.22 L806.29 164.08 L806.71 162.09 L807.12 156.23 L807.53 157.26 L807.94 155.65 L808.36 149.05 L808.77 154.4 L809.18 150.94 L809.6 152.51 L810.01 154.9 L810.42 148.77 L810.84 152.27 L811.25 155.26 L811.66 144.55 L812.07 143.15 L812.49 145.13 L812.9 137.8 L813.31 141.59 L813.73 141.2 L814.14 140.93 L814.55 134.04 L814.96 139.65 L815.38 138.45 L815.79 137.7 L816.2 138.48 L816.62 138.68 L817.03 135.38 L817.44 135.62 L817.86 130.45 L818.27 135.13 L818.68 127.5 L819.09 130.77 L819.51 131.44 L819.92 130.29 L820.33 132.57 L820.75 133.38 L821.16 133.18 L821.57 136.72 L821.99 140.97 L822.4 138.15 L822.81 131.26 L823.22 136.54 L823.64 142.53 L824.05 134.45 L824.46 128.65 L824.88 129.62 L825.29 134.03 L825.7 136.07 L826.12 136.46 L826.53 139.33 L826.94 141.47 L827.35 136.13 L827.77 143.03 L828.18 142.19 L828.59 150.58 L829.01 148.32 L829.42 149.36 L829.83 144.8 L830.25 148.43 L830.66 147.25 L831.07 148.91 L831.48 145.55 L831.9 142.09 L832.31 148 L832.72 144.42 L833.14 145.4 L833.55 147.19 L833.96 142.63 L834.38 142.31 L834.79 152.09 L835.2 143.19 L835.61 139.8 L836.03 143.92 L836.44 140.27 L836.85 138.43 L837.27 139.67 L837.68 139.97 L838.09 135.11 L838.51 135.75 L838.92 136.24 L839.33 133.75 L839.74 138.1 L840.16 135.42 L840.57 134.87 L840.98 134.6 L841.4 136.42 L841.81 129.82 L842.22 132.57 L842.64 132.34 L843.05 137.77 L843.46 135.11 L843.87 135.68 L844.29 134.26 L844.7 129.65 L845.11 127.64 L845.53 134.78 L845.94 134.28 L846.35 135.4 L846.77 138.21 L847.18 136.87 L847.59 140.95 L848 141.94 L848.42 135.24 L848.83 138.15 L849.24 135.43 L849.66 135.65 L850.07 132.75 L850.48 132.01 L850.9 127.96 L851.31 132.67 L851.72 132.21 L852.13 130.8 L852.55 130.73 L852.96 130.86 L853.37 128.66 L853.79 125.57 L854.2 134.8 L854.61 133.96 L855.03 134.96 L855.44 133.06 L855.85 138.62 L856.26 139.53 L856.68 132.54 L857.09 135.57 L857.5 137.48 L857.92 140.5 L858.33 136.18 L858.74 138.95 L859.16 142.48 L859.57 143.46 L859.98 144.47 L860.39 138.59 L860.81 144.38 L861.22 147.11 L861.63 145.01 L862.05 139.43 L862.46 140.94 L862.87 146.16 L863.29 146.9 L863.7 146.48 L864.11 144.98 L864.52 146.98 L864.94 146.93 L865.35 146.69 L865.76 148.38 L866.18 150 L866.59 148.88 L867 148.4 L867.41 145.1 L867.83 141.99 L868.24 142.41 L868.65 145.91 L869.07 140.83 L869.48 147.25 L869.89 141.74 L870.31 148.51 L870.72 145.23 L871.13 143.16 L871.54 143.04 L871.96 148.1 L872.37 144.47 L872.78 146.25 L873.2 145.62 L873.61 143.41 L874.02 145.82 L874.44 139.83 L874.85 144.5 L875.26 143.5 L875.67 146.55 L876.09 144.86 L876.5 143.27 L876.91 140.53 L877.33 139.48 L877.74 142.06 L878.15 142.79 L878.57 141.8 L878.98 131.78 L879.39 132.96 L879.8 132.34 L880.22 137.08 L880.63 130.02 L881.04 135.2 L881.46 135.53 L881.87 138.27 L882.28 140.29 L882.7 133.13 L883.11 135.88 L883.52 135.51 L883.93 137.88 L884.35 139.08 L884.76 136 L885.17 129.45 L885.59 125.26 L886 131.46 L886.41 129.98 L886.83 131.58 L887.24 128.79 L887.65 123.85 L888.06 126.25 L888.48 122.83 L888.89 120.25 L889.3 124 L889.72 126.75 L890.13 118.44 L890.54 122.45 L890.96 122.69 L891.37 121.46 L891.78 121.65 L892.19 117.18 L892.61 122 L893.02 115.64 L893.43 118.33 L893.85 114.75 L894.26 110.71 L894.67 113.58 L895.09 109.66 L895.5 115.51 L895.91 116.96 L896.32 113.85 L896.74 115.44 L897.15 116.7 L897.56 119.39 L897.98 122.78 L898.39 121.45 L898.8 132.31 L899.22 130.41 L899.63 141.32 L900.04 146.24 L900.45 153.07 L900.87 149.28 L901.28 157.85 L901.69 151.84 L902.11 147.64" fill="none" stroke="#6fa6d8" stroke-width="2.6" stroke-linejoin="round" stroke-linecap="round"/>
<line x1="713.6" y1="57.2" x2="745.2" y2="57.2" stroke="#1f4f7d" stroke-width="1.6"/>
<line x1="713.6" y1="74.4" x2="745.2" y2="74.4" stroke="#6fa6d8" stroke-width="1.6"/>
<text x="748.8" y="62.3" font-size="13.85" text-anchor="start" fill="#000" stroke="#000">as prepared</text>
<text x="748.8" y="79.3" font-size="13.85" text-anchor="start" fill="#000" stroke="#000">after 50 times</text>
<text x="748.8" y="96.3" font-size="13.85" text-anchor="start" fill="#000" stroke="#000">attaching/detaching</text>
<rect x="690.2" y="39.9" width="227.6" height="239.1" fill="none" stroke="#2b2b2b" stroke-width="1.2"/>
<path d="M711.3 279v3.2M752.6 279v3.2M793.9 279v3.2M835.2 279v3.2M876.5 279v3.2M917.8 279v3.2M690.65 279v1.8M731.95 279v1.8M773.25 279v1.8M814.55 279v1.8M855.85 279v1.8M897.15 279v1.8M690.2 262.79h-3.2M690.2 230.95h-3.2M690.2 199.11h-3.2M690.2 167.27h-3.2M690.2 135.43h-3.2M690.2 103.58h-3.2M690.2 71.74h-3.2M690.2 39.9h-3.2M690.2 278.71h-1.8M690.2 246.87h-1.8M690.2 215.03h-1.8M690.2 183.19h-1.8M690.2 151.35h-1.8M690.2 119.5h-1.8M690.2 87.66h-1.8M690.2 55.82h-1.8" stroke="#2b2b2b" stroke-width="1.1" fill="none"/>
<text x="711.3" y="295.7" font-size="15" text-anchor="middle" fill="#000" stroke="#000">0</text>
<text x="752.6" y="295.7" font-size="15" text-anchor="middle" fill="#000" stroke="#000">20</text>
<text x="793.9" y="295.7" font-size="15" text-anchor="middle" fill="#000" stroke="#000">40</text>
<text x="835.2" y="295.7" font-size="15" text-anchor="middle" fill="#000" stroke="#000">60</text>
<text x="876.5" y="295.7" font-size="15" text-anchor="middle" fill="#000" stroke="#000">80</text>
<text x="917.8" y="295.7" font-size="15" text-anchor="middle" fill="#000" stroke="#000">100</text>
<text x="683.8" y="267.29" font-size="15" text-anchor="end" fill="#000" stroke="#000">0.0</text>
<text x="683.8" y="235.45" font-size="15" text-anchor="end" fill="#000" stroke="#000">0.1</text>
<text x="683.8" y="203.61" font-size="15" text-anchor="end" fill="#000" stroke="#000">0.2</text>
<text x="683.8" y="171.77" font-size="15" text-anchor="end" fill="#000" stroke="#000">0.3</text>
<text x="683.8" y="139.93" font-size="15" text-anchor="end" fill="#000" stroke="#000">0.4</text>
<text x="683.8" y="108.08" font-size="15" text-anchor="end" fill="#000" stroke="#000">0.5</text>
<text x="683.8" y="76.24" font-size="15" text-anchor="end" fill="#000" stroke="#000">0.6</text>
<text x="683.8" y="44.4" font-size="15" text-anchor="end" fill="#000" stroke="#000">0.7</text>
<text x="804" y="322.8" font-size="16.6" text-anchor="middle" fill="#000" stroke="#000">Displacement (mm)</text>
<text transform="translate(657.5 230.4) rotate(-90)" font-size="16.2" text-anchor="start" fill="#000" stroke="#000">Force/width (N m<tspan font-size="11" dx="1.2" dy="-7.5">-1</tspan><tspan dx="1.6" dy="7.5">)</tspan></text>
<text x="633.6" y="335" font-size="24" text-anchor="start" fill="#000" stroke="#000">F</text>
<path d="M707.55 559.68 L708.24 552.78 L708.93 547.5 L709.62 545.35 L710.31 543.2 L711 543.54 L711.69 543.87 L712.38 544.21 L713.07 545.69 L713.76 547.17 L714.45 548.36 L715.14 549.25 L715.82 549.65 L716.51 548.55 L717.2 547.45 L717.89 546.15 L718.58 544.62 L719.27 543.09 L719.96 541.77 L720.65 540.08 L721.34 538.8 L722.03 537.47 L722.72 536.16 L723.41 535.48 L724.1 534.18 L724.79 532.37 L725.48 530.99 L726.16 529.68 L726.85 529.21 L727.54 527.48 L728.23 525.84 L728.92 524.91 L729.61 525.45 L730.3 524.64 L730.99 522.02 L731.68 520.25 L732.37 520.12 L733.06 518.18 L733.75 517.33 L734.44 515.91 L735.13 514.4 L735.81 513.04 L736.5 512.21 L737.19 508.64 L737.88 508.08 L738.57 507.96 L739.26 506.13 L739.95 505.27 L740.64 502.26 L741.33 502.48 L742.02 499.87 L742.71 497.28 L743.4 495.88 L744.09 494.29 L744.78 494.59 L745.47 491.47 L746.15 491.03 L746.84 488.37 L747.53 488.6 L748.22 485.47 L748.91 485.38 L749.6 483.78 L750.29 483.57 L750.98 482.3 L751.67 481 L752.36 478.5 L753.05 478.71 L753.74 477.24 L754.43 474.87 L755.12 474.33 L755.8 473.9 L756.49 472.23 L757.18 472.67 L757.87 471.61 L758.56 468.62 L759.25 465.28 L759.94 465.09 L760.63 463.72 L761.32 464.67 L762.01 464.82 L762.7 462.43 L763.39 463.68 L764.08 464.36 L764.77 460.38 L765.45 458.92 L766.14 458.34 L766.83 456.66 L767.52 456.72 L768.21 456.45 L768.9 457.09 L769.59 455.55 L770.28 455.87 L770.97 454.43 L771.66 451.62 L772.35 452.54 L773.04 451.71 L773.73 452.05 L774.42 448.27 L775.11 451.76 L775.79 449.94 L776.48 447.35 L777.17 448.12 L777.86 447.34 L778.55 445.29 L779.24 444.24 L779.93 443.47 L780.62 444.1 L781.31 441.76 L782 442.78 L782.69 441.65 L783.38 440.87 L784.07 438.76 L784.76 438.55 L785.44 438.26 L786.13 436.47 L786.82 436.61 L787.51 435.27 L788.2 434.23 L788.89 433.61 L789.58 433.17 L790.27 432.43 L790.96 429.25 L791.65 431.26 L792.34 428.06 L793.03 428.12 L793.72 427.06 L794.41 427.1 L795.09 424.48 L795.78 424 L796.47 421.51 L797.16 422.07 L797.85 421.59 L798.54 420.72 L799.23 417.77 L799.92 417.26 L800.61 417.25 L801.3 414.48 L801.99 414.92 L802.68 414.57 L803.37 412.93 L804.06 413.58 L804.75 411.57 L805.43 411.85 L806.12 409.37 L806.81 408.44 L807.5 408.26 L808.19 406.27 L808.88 407.07 L809.57 405.02 L810.26 404.77 L810.95 404.87 L811.64 402.26 L812.33 400.43 L813.02 398.24 L813.71 400.19 L814.4 399.02 L815.08 397.07 L815.77 398.87 L816.46 395.65 L817.15 397.85 L817.84 396.57 L818.53 394.9 L819.22 394.25 L819.91 392.18 L820.6 393.31 L821.29 391.63 L821.98 391.05 L822.67 389.78 L823.36 388.56 L824.05 387.47 L824.74 387.25 L825.42 386.47 L826.11 386.13 L826.8 386.99 L827.49 386.58 L828.18 383.87 L828.87 384.85 L829.56 383.63 L830.25 382.03 L830.94 381.91 L831.63 381.67 L832.32 381.11 L833.01 379.67 L833.7 377.79 L834.39 380.24 L835.07 378.35 L835.76 376.68 L836.45 376.81 L837.14 377.09 L837.83 376.11 L838.52 375.4 L839.21 374.48 L839.9 376.6 L840.59 375.55 L841.28 374.13 L841.97 373.64 L842.66 373.58 L843.35 373.18 L844.04 372.49 L844.72 372.65 L845.41 370.42 L846.1 373.24 L846.79 372.7 L847.48 373.52 L848.17 371.39 L848.86 371.52 L849.55 371.68 L850.24 372.41 L850.93 369.27 L851.62 370.66 L852.31 370.35 L853 372.46 L853.69 370.95 L854.38 370.87 L855.06 370.04 L855.75 371.52 L856.44 371.49 L857.13 375.17 L857.82 375.92 L858.51 377.66 L859.2 379.7 L859.89 381.59 L860.58 383.33 L861.27 383.24 L861.96 386.21 L862.65 386.46 L863.34 387.85 L864.03 390.18 L864.71 391.06 L865.4 394.78 L866.09 394.46 L866.78 394.1 L867.47 396.88 L868.16 399.38 L868.85 397.68 L869.54 400.97 L870.23 399.57 L870.92 401.82 L871.61 403.94 L872.3 404.3 L872.99 403.12 L873.68 405.35 L874.36 406.47 L875.05 407.04 L875.74 408.14 L876.43 409.38 L877.12 408.98 L877.81 408.98 L878.5 411.05 L879.19 410.41 L879.88 411.63 L880.57 414.87 L881.26 413.55 L881.95 413.67 L882.64 417.54 L883.33 416.88 L884.02 416.63 L884.7 418.61 L885.39 418.31 L886.08 419.17 L886.77 420.31 L887.46 420.11 L888.15 420.93 L888.84 421.13 L889.53 421.58 L890.22 422.63 L890.91 423.18 L891.6 423.44 L892.29 422.83 L892.98 424.68 L893.67 422.8 L894.35 425.18 L895.04 422.83 L895.73 425.1 L896.42 425.58 L897.11 425.92 L897.8 425.23 L898.49 425.78 L899.18 427.07 L899.87 426.3 L900.56 426.28 L901.25 426.81 L901.94 426.04 L902.63 429.87 L903.32 428 L904.01 428.65 L904.69 427.89 L905.38 426.77 L906.07 430.15 L906.76 429.9 L907.45 429.6 L908.14 428.73 L908.83 428.84 L909.52 430.7 L910.21 429.41 L910.9 430.47 L911.59 429.65 L912.28 430.74 L912.97 430.49" fill="none" stroke="#72a8d8" stroke-width="1.65" stroke-linejoin="round" stroke-linecap="round"/>
<rect x="690.2" y="338.6" width="223.8" height="235" fill="none" stroke="#2b2b2b" stroke-width="1.2"/>
<path d="M707.21 573.6v3.2M741.67 573.6v3.2M776.14 573.6v3.2M810.6 573.6v3.2M845.07 573.6v3.2M879.53 573.6v3.2M914 573.6v3.2M724.44 573.6v1.8M758.91 573.6v1.8M793.37 573.6v1.8M827.84 573.6v1.8M862.3 573.6v1.8M896.77 573.6v1.8M690.2 556.99h-3.2M690.2 523.36h-3.2M690.2 489.73h-3.2M690.2 456.1h-3.2M690.2 422.47h-3.2M690.2 388.84h-3.2M690.2 355.21h-3.2M690.2 573.8h-1.8M690.2 540.17h-1.8M690.2 506.54h-1.8M690.2 472.91h-1.8M690.2 439.29h-1.8M690.2 405.66h-1.8M690.2 372.03h-1.8M690.2 570.44h-1.12M690.2 567.08h-1.12M690.2 563.71h-1.12M690.2 560.35h-1.12M690.2 553.62h-1.12M690.2 550.26h-1.12M690.2 546.9h-1.12M690.2 543.54h-1.12M690.2 536.81h-1.12M690.2 533.45h-1.12M690.2 530.08h-1.12M690.2 526.72h-1.12M690.2 520h-1.12M690.2 516.63h-1.12M690.2 513.27h-1.12M690.2 509.91h-1.12M690.2 503.18h-1.12M690.2 499.82h-1.12M690.2 496.45h-1.12M690.2 493.09h-1.12M690.2 486.37h-1.12M690.2 483h-1.12M690.2 479.64h-1.12M690.2 476.28h-1.12M690.2 469.55h-1.12M690.2 466.19h-1.12M690.2 462.83h-1.12M690.2 459.46h-1.12M690.2 452.74h-1.12M690.2 449.37h-1.12M690.2 446.01h-1.12M690.2 442.65h-1.12M690.2 435.92h-1.12M690.2 432.56h-1.12M690.2 429.2h-1.12M690.2 425.83h-1.12M690.2 419.11h-1.12M690.2 415.75h-1.12M690.2 412.38h-1.12M690.2 409.02h-1.12M690.2 402.29h-1.12M690.2 398.93h-1.12M690.2 395.57h-1.12M690.2 392.2h-1.12M690.2 385.48h-1.12M690.2 382.12h-1.12M690.2 378.75h-1.12M690.2 375.39h-1.12M690.2 368.66h-1.12M690.2 365.3h-1.12M690.2 361.94h-1.12M690.2 358.58h-1.12M690.2 351.85h-1.12M690.2 348.49h-1.12M690.2 345.12h-1.12M690.2 341.76h-1.12" stroke="#2b2b2b" stroke-width="1.1" fill="none"/>
<text x="707.21" y="591.7" font-size="15" text-anchor="middle" fill="#000" stroke="#000">0.0</text>
<text x="741.67" y="591.7" font-size="15" text-anchor="middle" fill="#000" stroke="#000">0.2</text>
<text x="776.14" y="591.7" font-size="15" text-anchor="middle" fill="#000" stroke="#000">0.4</text>
<text x="810.6" y="591.7" font-size="15" text-anchor="middle" fill="#000" stroke="#000">0.6</text>
<text x="845.07" y="591.7" font-size="15" text-anchor="middle" fill="#000" stroke="#000">0.8</text>
<text x="879.53" y="591.7" font-size="15" text-anchor="middle" fill="#000" stroke="#000">1.0</text>
<text x="914" y="591.7" font-size="15" text-anchor="middle" fill="#000" stroke="#000">1.2</text>
<text x="683.8" y="561.59" font-size="15" text-anchor="end" fill="#000" stroke="#000">0</text>
<text x="683.8" y="527.96" font-size="15" text-anchor="end" fill="#000" stroke="#000">0.1</text>
<text x="683.8" y="494.33" font-size="15" text-anchor="end" fill="#000" stroke="#000">0.2</text>
<text x="683.8" y="460.7" font-size="15" text-anchor="end" fill="#000" stroke="#000">0.3</text>
<text x="683.8" y="427.07" font-size="15" text-anchor="end" fill="#000" stroke="#000">0.4</text>
<text x="683.8" y="393.44" font-size="15" text-anchor="end" fill="#000" stroke="#000">0.5</text>
<text x="683.8" y="359.81" font-size="15" text-anchor="end" fill="#000" stroke="#000">0.6</text>
<text x="804" y="616.5" font-size="16.4" text-anchor="middle" fill="#000" stroke="#000">Displacement (mm)</text>
<text transform="translate(654.8 449.8) rotate(-90)" font-size="16.3" text-anchor="middle" fill="#000" stroke="#000">Shear strength (kPa)</text>
<text x="27.4" y="660.2" font-size="24" text-anchor="start" fill="#000" stroke="#000">G</text>
<defs><clipPath id="cG"><rect x="65.2" y="655.2" width="221.4" height="207"/></clipPath>
<filter id="bG1" x="-20%" y="-20%" width="140%" height="140%"><feGaussianBlur stdDeviation="4.5"/></filter>
<filter id="bG2" x="-20%" y="-20%" width="140%" height="140%"><feGaussianBlur stdDeviation="2"/></filter>
<filter id="bG3" x="-20%" y="-20%" width="140%" height="140%"><feGaussianBlur stdDeviation="0.7"/></filter>
<filter id="bG7" x="-10%" y="-300%" width="120%" height="700%"><feGaussianBlur stdDeviation="4.5"/></filter><filter id="bG6" x="-20%" y="-20%" width="140%" height="140%"><feGaussianBlur stdDeviation="2.8"/></filter><filter id="bG5" x="-50%" y="-50%" width="200%" height="200%"><feGaussianBlur stdDeviation="14"/></filter>
<filter id="nG" x="0" y="0" width="100%" height="100%" color-interpolation-filters="sRGB"><feTurbulence type="fractalNoise" baseFrequency="0.28 0.42" numOctaves="2" seed="5"/><feColorMatrix type="matrix" values="0 0 0 0 0.9  0 0 0 0 0.88  0 0 0 0 0.86  2.6 0 0 0 -1.2"/><feGaussianBlur stdDeviation="0.8"/></filter>
<linearGradient id="gG" x1="0" y1="760" x2="0" y2="864" gradientUnits="userSpaceOnUse"><stop offset="0" stop-color="#a9a4a1"/><stop offset="0.22" stop-color="#c9c5c2"/><stop offset="0.4" stop-color="#bebbb8"/><stop offset="0.7" stop-color="#b7b5b2"/><stop offset="1" stop-color="#b1afab"/></linearGradient>
<linearGradient id="gGm" x1="0" y1="776" x2="0" y2="818" gradientUnits="userSpaceOnUse"><stop offset="0" stop-color="#000"/><stop offset="0.3" stop-color="#fff"/><stop offset="0.6" stop-color="#fff"/><stop offset="1" stop-color="#000"/></linearGradient>
<mask id="mG" maskUnits="userSpaceOnUse" x="60" y="760" width="230" height="80"><path d="M40 780 C 80 780 110 782 135 787 C 160 792 200 796 250 797.5 C 270 798 290 799 310 799.5" fill="none" stroke="#fff" stroke-width="22" filter="url(#bG7)"/></mask>
<linearGradient id="gGf" x1="0" y1="678" x2="0" y2="792" gradientUnits="userSpaceOnUse"><stop offset="0" stop-color="#6f7b82"/><stop offset="0.25" stop-color="#3a4046"/><stop offset="0.5" stop-color="#4a4846"/><stop offset="0.7" stop-color="#77706b"/><stop offset="0.82" stop-color="#9a9592" stop-opacity="0.6"/><stop offset="0.9" stop-color="#b0aaa6" stop-opacity="0"/><stop offset="1" stop-color="#b0aaa6" stop-opacity="0"/></linearGradient>
<linearGradient id="gGe" x1="0" y1="678" x2="0" y2="784" gradientUnits="userSpaceOnUse"><stop offset="0" stop-color="#dbecf0"/><stop offset="0.7" stop-color="#c2d6dc"/><stop offset="1" stop-color="#c2d6dc" stop-opacity="0.2"/></linearGradient>
</defs>
<g clip-path="url(#cG)">
<rect x="65.2" y="655.2" width="221.4" height="207" fill="#0f131a"/>
<path d="M40 762.5 C 80 762.5 110 764.5 135 769.5 C 160 774.5 200 778.5 250 780 C 270 780.6 290 781.6 310 782 L310 890 L40 890Z" fill="url(#gG)" filter="url(#bG6)"/>
<g mask="url(#mG)"><rect x="60" y="760" width="230" height="80" filter="url(#nG)" opacity="0.6"/></g>
<ellipse cx="270" cy="850" rx="70" ry="45" fill="#9a958c" opacity="0.42" filter="url(#bG5)"/>
<path d="M176 681 C 174.5 700 170 728 161.4 747 C 156 760 149 776 140 790 L186 781 C 181 765 179.5 748 184.3 722.5 C 188 706 196 690 204 677Z" fill="url(#gGf)" opacity="0.92" filter="url(#bG3)"/>
<path d="M203.8 677.5 C 196 690 187.5 707 184.3 722.5 C 180 746 181 765 185.8 781" fill="none" stroke="url(#gGe)" stroke-width="2" filter="url(#bG3)"/>
<path d="M173 706 C 171 722 166 738 161.4 747 C 156 760 149 776 139.5 790.5" fill="none" stroke="#e4deda" stroke-width="0.9" opacity="0.9"/>
<path d="M177 690l2 5M181 697l1.6 4M176 704l1.2 4M184 706l1 3M171 744l1.4 -5M168 752l1.2 -4" stroke="#cfd6d8" stroke-width="0.8" opacity="0.7" fill="none"/>
<path d="M145 648 L236 648 L222 666 L206 677 L178.5 679.5 L162 684 L148 687.5 L140.5 685 L139 680 L141.5 670Z" fill="#e0edf1" filter="url(#bG2)"/>
</g>
<path d="M180.2 726.8 L199 736" stroke="#fff" stroke-width="1.5" fill="none"/>
<path d="M204.2 738.6 L195.8 738.4 L199.2 731.6Z" fill="#fff"/>
<text x="210" y="732" font-size="17" text-anchor="start" fill="#fff" stroke="#fff">ultrathin</text>
<text x="210" y="752.5" font-size="17" text-anchor="start" fill="#fff" stroke="#fff">hydrogel</text>
<text x="104.6" y="819.2" font-size="17" text-anchor="start" fill="#f6f6f6" stroke="#f6f6f6">skin</text>
<text x="221.4" y="840" font-size="17" text-anchor="start" fill="#fff" stroke="#fff">1 cm</text>
<rect x="216" y="846.8" width="51" height="2.2" fill="#fff"/>
<text x="314.6" y="659.8" font-size="24" text-anchor="start" fill="#000" stroke="#000">H</text>
<defs><linearGradient id="gHv" x1="0" y1="650.9" x2="0" y2="790" gradientUnits="userSpaceOnUse"><stop offset="0" stop-color="#12cc2e"/><stop offset="0.3" stop-color="#12cc48"/><stop offset="0.45" stop-color="#14d090"/><stop offset="0.56" stop-color="#1cccd8"/><stop offset="0.66" stop-color="#2096e4"/><stop offset="0.8" stop-color="#1644d4"/><stop offset="1" stop-color="#1226cc"/></linearGradient>
<linearGradient id="gHl" x1="333" y1="0" x2="510" y2="0" gradientUnits="userSpaceOnUse"><stop offset="0" stop-color="#1226d8"/><stop offset="0.36" stop-color="#1634dc"/><stop offset="0.47" stop-color="#28c0e8"/><stop offset="0.56" stop-color="#40e448"/><stop offset="0.72" stop-color="#c4f014"/><stop offset="0.86" stop-color="#38e040"/><stop offset="0.95" stop-color="#30d0e0"/><stop offset="1" stop-color="#2060e0"/></linearGradient>
<linearGradient id="gHl2" x1="333" y1="0" x2="510" y2="0" gradientUnits="userSpaceOnUse"><stop offset="0" stop-color="#2a98f4"/><stop offset="0.2" stop-color="#36ccf4"/><stop offset="0.4" stop-color="#40e8b0"/><stop offset="0.5" stop-color="#2cd4e8"/><stop offset="0.6" stop-color="#3ce098"/><stop offset="0.75" stop-color="#60e83c"/><stop offset="0.88" stop-color="#30d8d8"/><stop offset="1" stop-color="#1c50e0" stop-opacity="0"/></linearGradient>
<linearGradient id="gHr" x1="500" y1="0" x2="576" y2="0" gradientUnits="userSpaceOnUse"><stop offset="0" stop-color="#2a90ec" stop-opacity="0.2"/><stop offset="0.3" stop-color="#2a78ee"/><stop offset="1" stop-color="#2a6cf0"/></linearGradient>
<filter id="bH" x="-5%" y="-50%" width="110%" height="200%" color-interpolation-filters="sRGB"><feGaussianBlur stdDeviation="0.7"/></filter>
<clipPath id="cH"><rect x="332.8" y="640" width="242.3" height="221.4"/></clipPath>
</defs>
<rect x="352.2" y="653.2" width="13.9" height="9.38" fill="#f81e0e"/>
<rect x="352.2" y="662.38" width="13.9" height="9.38" fill="#fc660c"/>
<rect x="352.2" y="671.57" width="13.9" height="9.38" fill="#fdb80c"/>
<rect x="352.2" y="680.75" width="13.9" height="9.38" fill="#eef80e"/>
<rect x="352.2" y="689.93" width="13.9" height="9.38" fill="#98ea0c"/>
<rect x="352.2" y="699.12" width="13.9" height="9.38" fill="#2cd81a"/>
<rect x="352.2" y="708.3" width="13.9" height="9.38" fill="#0cda38"/>
<rect x="352.2" y="717.48" width="13.9" height="9.38" fill="#0ce684"/>
<rect x="352.2" y="726.67" width="13.9" height="9.38" fill="#0cecd8"/>
<rect x="352.2" y="735.85" width="13.9" height="9.38" fill="#0cb4fc"/>
<rect x="352.2" y="745.03" width="13.9" height="9.38" fill="#0c64f6"/>
<rect x="352.2" y="754.22" width="13.9" height="9.38" fill="#0c16ec"/>
<path d="M352.2 653.2h17.3M352.2 662.38h17.3M352.2 671.57h17.3M352.2 680.75h17.3M352.2 689.93h17.3M352.2 699.12h17.3M352.2 708.3h17.3M352.2 717.48h17.3M352.2 726.67h17.3M352.2 735.85h17.3M352.2 745.03h17.3M352.2 754.22h17.3M352.2 763.4h17.3" stroke="#222" stroke-width="0.8" fill="none" opacity="0.85"/>
<text x="375.3" y="656.8" font-size="13" text-anchor="start" fill="#000" stroke="#000">0.55</text>
<text x="406.2" y="656.8" font-size="13" text-anchor="start" fill="#000" stroke="#000">MPa</text>
<text x="375.6" y="684" font-size="13" text-anchor="start" fill="#000" stroke="#000">0.42</text>
<text x="375.8" y="711.8" font-size="13" text-anchor="start" fill="#000" stroke="#000">0.28</text>
<text x="376.6" y="739.6" font-size="13" text-anchor="start" fill="#000" stroke="#000">0.14</text>
<text x="378.2" y="767.2" font-size="13" text-anchor="start" fill="#000" stroke="#000">0</text>
<g clip-path="url(#cH)">
<path d="M330 795.2 C 360 794.2 385 792.6 400 791 C 412 789.6 420 787.4 428 786 C 445 783.6 470 783.4 488 784.2 C 496 784.6 502 785.2 508 785.6 L512 781 L576 786 L576 870 L330 870Z" fill="#0303d7"/>
<g filter="url(#bH)">
<path d="M330 799.4 C 360 798.4 385 796.6 400 794.6 C 412 793 420 791.2 428 789.8 C 445 787.6 470 787.4 488 788.2 C 500 788.8 520 790 576 795.6" fill="none" stroke="#1430dc" stroke-width="7.5"/>
<path d="M330 803.6 C 360 802.6 385 800.8 400 798.4 C 412 796.6 420 794.8 428 793.6 C 445 791.6 470 791.6 488 793 C 496 793.6 502 794.4 510 795.4" fill="none" stroke="url(#gHl2)" stroke-width="3.2"/>
<path d="M330 796.6 C 360 795.6 385 794 400 792.2 C 412 790.8 420 788.6 428 787.2 C 445 785 470 784.8 488 785.6 C 496 786 502 786.6 510 787.2" fill="none" stroke="url(#gHl)" stroke-width="3.2"/>
<path d="M407.5 790 L413.5 798" stroke="#44e0b8" stroke-width="5" opacity="0.9" fill="none"/>
<path d="M500 789 C 520 791.5 550 795.5 576 799.4" fill="none" stroke="url(#gHr)" stroke-width="3.6"/>
</g>
<path d="M509 780.6 L576 786 L576 792.6 L509 786.4Z" fill="#1226cc"/>
</g>
<path d="M486.4 650.9 L487.6 762 C 487.8 776 495 782.4 511 783.6" fill="none" stroke="url(#gHv)" stroke-width="5.2"/>
<path d="M468.8 699.2 L468.8 681" stroke="#111" stroke-width="1.4" fill="none"/>
<path d="M468.8 675.2 L472.4 683 L465.2 683Z" fill="#111"/>
<text x="497.4" y="700" font-size="17" text-anchor="start" fill="#000" stroke="#000">hydrogel</text>
<text x="466.2" y="844" font-size="17" text-anchor="start" fill="#fff" stroke="#fff">skin</text>
<text x="594.8" y="660.2" font-size="24" text-anchor="start" fill="#000" stroke="#000">I</text>
<defs>
<clipPath id="cI1"><rect x="618.2" y="651" width="148.7" height="210.3"/></clipPath>
<clipPath id="cI2"><rect x="771.3" y="651" width="148.8" height="210.3"/></clipPath>
<filter id="bI" x="-5%" y="-5%" width="110%" height="110%"><feGaussianBlur stdDeviation="0.7"/></filter>
<filter id="bI2" x="-30%" y="-30%" width="160%" height="160%"><feGaussianBlur stdDeviation="9"/></filter>
<filter id="mI1" x="0" y="0" width="100%" height="100%" color-interpolation-filters="sRGB"><feTurbulence type="fractalNoise" baseFrequency="0.022 0.026" numOctaves="2" seed="3"/><feColorMatrix type="matrix" values="0 3.2 0 0 -0.98  0 3.2 0 0 -0.98  0 3.2 0 0 -0.98  0 0 0 0 1"/></filter>
<filter id="mI2" x="0" y="0" width="100%" height="100%" color-interpolation-filters="sRGB"><feTurbulence type="fractalNoise" baseFrequency="0.024 0.022" numOctaves="2" seed="17"/><feColorMatrix type="matrix" values="0 3.2 0 0 -0.98  0 3.2 0 0 -0.98  0 3.2 0 0 -0.98  0 0 0 0 1"/></filter>
<filter id="nIa" x="0" y="0" width="100%" height="100%" color-interpolation-filters="sRGB"><feTurbulence type="fractalNoise" baseFrequency="0.045 0.2" numOctaves="3" seed="4"/><feColorMatrix type="matrix" values="0.3 0 0 0 -0.15  2.3 0 0 0 -1.17  0.32 0 0 0 -0.16  0 0 0 0 1"/></filter>
<filter id="nIb" x="0" y="0" width="100%" height="100%" color-interpolation-filters="sRGB"><feTurbulence type="fractalNoise" baseFrequency="0.05 0.22" numOctaves="3" seed="11"/><feColorMatrix type="matrix" values="0.3 0 0 0 -0.16  2.3 0 0 0 -1.22  0.32 0 0 0 -0.17  0 0 0 0 1"/></filter>
<filter id="nIc" x="0" y="0" width="100%" height="100%" color-interpolation-filters="sRGB"><feTurbulence type="fractalNoise" baseFrequency="0.05 0.21" numOctaves="3" seed="23"/><feColorMatrix type="matrix" values="0.27 0 0 0 -0.15  2.1 0 0 0 -1.13  0.29 0 0 0 -0.16  0 0 0 0 1"/></filter>
<filter id="nId" x="0" y="0" width="100%" height="100%" color-interpolation-filters="sRGB"><feTurbulence type="fractalNoise" baseFrequency="0.045 0.2" numOctaves="3" seed="31"/><feColorMatrix type="matrix" values="0.27 0 0 0 -0.14  2.1 0 0 0 -1.11  0.29 0 0 0 -0.16  0 0 0 0 1"/></filter>
<filter id="nIe" x="0" y="0" width="100%" height="100%" color-interpolation-filters="sRGB"><feTurbulence type="fractalNoise" baseFrequency="0.05 0.22" numOctaves="3" seed="47"/><feColorMatrix type="matrix" values="0.27 0 0 0 -0.15  2.1 0 0 0 -1.15  0.29 0 0 0 -0.16  0 0 0 0 1"/></filter>
<filter id="nIf" x="0" y="0" width="100%" height="100%" color-interpolation-filters="sRGB"><feTurbulence type="fractalNoise" baseFrequency="0.05 0.21" numOctaves="3" seed="59"/><feColorMatrix type="matrix" values="0.25 0 0 0 -0.14  1.9 0 0 0 -1.05  0.27 0 0 0 -0.15  0 0 0 0 1"/></filter>
</defs>
<g clip-path="url(#cI1)" style="isolation:isolate">
<rect x="618.2" y="651" width="148.7" height="210.3" fill="#021002"/>
<rect x="557.55" y="621.15" width="270" height="270" transform="rotate(-28 692.55 756.15)" filter="url(#nIa)" style="mix-blend-mode:screen"/>
<rect x="557.55" y="621.15" width="270" height="270" transform="rotate(8 692.55 756.15)" filter="url(#nIb)" style="mix-blend-mode:screen"/>
<rect x="557.55" y="621.15" width="270" height="270" transform="rotate(-58 692.55 756.15)" filter="url(#nIc)" style="mix-blend-mode:screen"/>
<g filter="url(#bI2)"><ellipse cx="644.97" cy="714.09" rx="22" ry="16" fill="#000" opacity="0.45"/><ellipse cx="692.55" cy="745.63" rx="30" ry="14" fill="#000" opacity="0.4"/><ellipse cx="650.91" cy="781.39" rx="30" ry="14" fill="#000" opacity="0.4"/><ellipse cx="707.42" cy="781.39" rx="20" ry="12" fill="#000" opacity="0.45"/><ellipse cx="749.06" cy="836.06" rx="18" ry="22" fill="#000" opacity="0.35"/></g>
<g filter="url(#bI)" fill="none" stroke-linecap="round"><path d="M726.81 704.49l14.07 -7.07" stroke="#17aa17" stroke-width="1.47" opacity="0.56"/><path d="M619.97 714.24l6.87 -0.95" stroke="#19b519" stroke-width="1.15" opacity="0.54"/><path d="M653.06 724.3l6.5 -0.41" stroke="#0a4e0a" stroke-width="1.46" opacity="0.64"/><path d="M611.64 813.35l15.71 -10.7" stroke="#0b4f0b" stroke-width="1.49" opacity="0.45"/><path d="M687.14 856.58l4.83 -9.24" stroke="#16a016" stroke-width="1.8" opacity="0.32"/><path d="M680.66 702.12l11.32 4.18" stroke="#149414" stroke-width="1.63" opacity="0.23"/><path d="M713.34 774.11l13.77 -15.61" stroke="#169e16" stroke-width="0.99" opacity="0.48"/><path d="M693.78 672.83l14.39 -13.07" stroke="#117a11" stroke-width="0.87" opacity="0.3"/><path d="M686.36 809.86l9.6 -18.24" stroke="#107510" stroke-width="0.97" opacity="0.64"/><path d="M631.45 704l14.06 -6.58" stroke="#148f14" stroke-width="1.85" opacity="0.43"/><path d="M632.77 815.53l9.21 -9.17" stroke="#0f720f" stroke-width="1.86" opacity="0.27"/><path d="M740.97 794.43l5.64 -5.31" stroke="#0b510b" stroke-width="1.86" opacity="0.3"/><path d="M621.81 707.75l17.15 -0.2" stroke="#1bc31b" stroke-width="1.03" opacity="0.32"/><path d="M738.83 691.35l10.23 13.6" stroke="#0c590c" stroke-width="0.94" opacity="0.23"/><path d="M725.47 692.02l8.37 -6.3" stroke="#0a4a0a" stroke-width="1.01" opacity="0.53"/><path d="M725.27 703.75l11.86 -10.43" stroke="#1abc1a" stroke-width="1.35" opacity="0.39"/><path d="M612.81 826.94l14.71 -3.06" stroke="#107310" stroke-width="0.87" opacity="0.25"/><path d="M693.13 806.84l16.75 -13.02" stroke="#17a717" stroke-width="1.15" opacity="0.58"/><path d="M626.78 786.59l3.97 -9.63" stroke="#0d630d" stroke-width="1.07" opacity="0.27"/><path d="M715.42 666.85l12.03 -9.46" stroke="#0d5d0d" stroke-width="1.31" opacity="0.34"/><path d="M669.8 759.78l6.87 -5.36" stroke="#18ae18" stroke-width="1.79" opacity="0.61"/><path d="M714.49 668.98l19.77 5.82" stroke="#149114" stroke-width="1.78" opacity="0.48"/><path d="M614.07 861.05l11.18 -1.93" stroke="#0d5d0d" stroke-width="0.87" opacity="0.53"/><path d="M657.23 788.54l12.31 -16.98" stroke="#0d600d" stroke-width="0.84" opacity="0.4"/><path d="M716.98 852.4l8.99 -5.35" stroke="#0d600d" stroke-width="1.07" opacity="0.6"/><path d="M629.02 842.95l5.98 -18.39" stroke="#169e16" stroke-width="1.05" opacity="0.28"/><path d="M756.23 670.07l-2.77 -8.1" stroke="#1bc31b" stroke-width="0.96" opacity="0.56"/><path d="M745.76 794.35l6.33 -5.37" stroke="#18ad18" stroke-width="0.96" opacity="0.68"/><path d="M627.26 788.64l6.53 -5.66" stroke="#0e660e" stroke-width="1.58" opacity="0.68"/><path d="M753.86 801.64l4.01 8.88" stroke="#17a917" stroke-width="1.06" opacity="0.34"/><path d="M730.05 798.31l4.52 -6.17" stroke="#128512" stroke-width="1.7" opacity="0.36"/><path d="M702.83 693.1l7.96 -7.8" stroke="#16a016" stroke-width="1.3" opacity="0.64"/><path d="M732.13 717.38l18.43 -7.53" stroke="#19b419" stroke-width="0.72" opacity="0.28"/><path d="M640.73 713.4l9.17 -6.21" stroke="#0b500b" stroke-width="1.14" opacity="0.65"/><path d="M631.75 816.11l9.4 -1.14" stroke="#1bc11b" stroke-width="0.75" opacity="0.64"/><path d="M696.2 827.11l12.13 -6.38" stroke="#0e660e" stroke-width="1.71" opacity="0.37"/><path d="M722.31 853.88l8.98 -4.04" stroke="#18ac18" stroke-width="0.75" opacity="0.65"/><path d="M695.23 653.43l14.19 1.94" stroke="#128612" stroke-width="0.96" opacity="0.51"/><path d="M617.47 705.05l1.93 -9.71" stroke="#117e11" stroke-width="0.77" opacity="0.3"/><path d="M622.56 821.33l13.18 -4.84" stroke="#0e680e" stroke-width="1.66" opacity="0.28"/><path d="M747.36 752.88l-0.79 -9.86" stroke="#0e690e" stroke-width="1.13" opacity="0.48"/><path d="M617.05 732.34l11.45 -0.43" stroke="#159715" stroke-width="1.74" opacity="0.59"/><path d="M760.82 741.34l9.59 -5.74" stroke="#118011" stroke-width="1.57" opacity="0.56"/><path d="M712.18 727.06l1.56 -9.46" stroke="#128212" stroke-width="1.6" opacity="0.29"/><path d="M616.67 675.92l10.24 -5.66" stroke="#1abd1a" stroke-width="0.95" opacity="0.39"/><path d="M617.44 672.45l7.89 -17.73" stroke="#16a116" stroke-width="0.81" opacity="0.6"/><path d="M670.68 686.22l12.93 -9.32" stroke="#117e11" stroke-width="1.76" opacity="0.51"/><path d="M713.59 751.78l5.74 -2.01" stroke="#107710" stroke-width="1.06" opacity="0.47"/><path d="M686.02 846.02l7.26 -15.96" stroke="#0d620d" stroke-width="0.99" opacity="0.51"/><path d="M729.04 797.71l12.9 -6.64" stroke="#117f11" stroke-width="1.89" opacity="0.51"/><path d="M750.58 682.4l8.46 0.02" stroke="#1abe1a" stroke-width="1.89" opacity="0.31"/><path d="M640.33 660.34l13.75 1.51" stroke="#18ae18" stroke-width="1.49" opacity="0.27"/><path d="M761.48 729.13l-5.65 -13.04" stroke="#149214" stroke-width="1.45" opacity="0.63"/><path d="M751.92 826.94l15.14 -13.07" stroke="#0f720f" stroke-width="1.08" opacity="0.64"/><path d="M751.08 737.71l9.57 -13.87" stroke="#169e16" stroke-width="1.62" opacity="0.43"/><path d="M715.66 835.64l4.92 -7.6" stroke="#0a490a" stroke-width="1.7" opacity="0.34"/><path d="M756.6 817.02l13 -13.13" stroke="#107410" stroke-width="1.38" opacity="0.7"/><path d="M701.15 764l9.94 -5.22" stroke="#159615" stroke-width="1.89" opacity="0.48"/><path d="M744.29 835.66l4.43 -4.61" stroke="#0d620d" stroke-width="1.4" opacity="0.54"/><path d="M710.34 838.41l8.25 -15.11" stroke="#18b218" stroke-width="0.72" opacity="0.26"/><path d="M644.48 839.4l3.53 -6.52" stroke="#128512" stroke-width="0.86" opacity="0.52"/><path d="M652.59 790.98l11.79 -14.91" stroke="#149114" stroke-width="0.71" opacity="0.3"/><path d="M657 823.16l11.81 5.55" stroke="#1bc51b" stroke-width="1.38" opacity="0.35"/><path d="M737.83 802.8l15.98 -6.93" stroke="#0e650e" stroke-width="0.96" opacity="0.37"/><path d="M696.81 683.58l13.73 -11.67" stroke="#159d15" stroke-width="1.9" opacity="0.39"/><path d="M629.75 832.17l6.76 4.49" stroke="#117f11" stroke-width="1.26" opacity="0.32"/><path d="M760.07 840.16l13.44 5.83" stroke="#0e670e" stroke-width="0.96" opacity="0.55"/><path d="M617.93 754.47l18.67 7.83" stroke="#18ad18" stroke-width="0.72" opacity="0.31"/><path d="M667.07 662.01l3.94 -4.83" stroke="#0a4d0a" stroke-width="1.31" opacity="0.43"/><path d="M660.47 789.5l6.33 -2.4" stroke="#0b550b" stroke-width="1.82" opacity="0.38"/><path d="M645.35 700.37l13.14 -6.83" stroke="#0d5f0d" stroke-width="0.97" opacity="0.5"/><path d="M733.14 762.33l6.05 0.32" stroke="#128412" stroke-width="1.18" opacity="0.58"/><path d="M731.6 741.11l15.57 14.01" stroke="#0f700f" stroke-width="1.43" opacity="0.6"/><path d="M736.15 713.39l5.8 -12.9" stroke="#107410" stroke-width="1.62" opacity="0.54"/><path d="M749.76 833.14l7.55 -1.05" stroke="#18b218" stroke-width="1.08" opacity="0.61"/><path d="M738.05 737.79l3.07 -16.31" stroke="#1bc71b" stroke-width="1.35" opacity="0.43"/><path d="M720.43 810.54l14.27 -8.5" stroke="#1abd1a" stroke-width="1.39" opacity="0.32"/><path d="M608.99 799.43l20.08 0.62" stroke="#149414" stroke-width="1.61" opacity="0.65"/><path d="M658.56 656.78l13.08 -4.4" stroke="#0e6b0e" stroke-width="1.86" opacity="0.67"/><path d="M632.65 699.99l2.58 -17.45" stroke="#0c590c" stroke-width="1.74" opacity="0.7"/><path d="M664.04 695.17l17.28 0.55" stroke="#0d5d0d" stroke-width="1.82" opacity="0.28"/><path d="M631.05 779.39l14.66 -6.77" stroke="#0b4f0b" stroke-width="0.83" opacity="0.31"/><path d="M676.29 753.65l10.4 -1.22" stroke="#128412" stroke-width="1.26" opacity="0.21"/><path d="M652.63 665.45l14.14 -3.34" stroke="#107610" stroke-width="1.68" opacity="0.59"/><path d="M694.59 823.31l10.19 4.72" stroke="#1abc1a" stroke-width="1.17" opacity="0.59"/><path d="M644.32 705.09l2.48 -7.96" stroke="#169f16" stroke-width="1.59" opacity="0.59"/><path d="M763.65 758.41l6.23 -7.72" stroke="#159b15" stroke-width="1.03" opacity="0.54"/><path d="M752.38 790.73l5.78 5.74" stroke="#0e690e" stroke-width="1.79" opacity="0.56"/><path d="M759.02 800.76l2.23 -13.82" stroke="#0c560c" stroke-width="1.81" opacity="0.26"/><path d="M660.77 711.05l9.79 -5.78" stroke="#0d5e0d" stroke-width="0.99" opacity="0.25"/><path d="M745.97 683.29l12.21 -2.01" stroke="#17a917" stroke-width="1.35" opacity="0.25"/><path d="M646.2 703.11l3.6 -8.58" stroke="#128612" stroke-width="1.05" opacity="0.5"/><path d="M724.31 703.84l6.88 1.17" stroke="#0a490a" stroke-width="1.2" opacity="0.34"/><path d="M646.61 707.24l15.33 -5.47" stroke="#0a4d0a" stroke-width="1.33" opacity="0.67"/><path d="M679.4 679.95l9.31 -3.94" stroke="#0d600d" stroke-width="1.02" opacity="0.38"/><path d="M621.3 780.29l18.19 0.27" stroke="#18ac18" stroke-width="1.58" opacity="0.23"/><path d="M690.97 663.14l16.99 -8.42" stroke="#0f6d0f" stroke-width="1.53" opacity="0.66"/><path d="M660.96 715.15l15.09 3.52" stroke="#094709" stroke-width="1.45" opacity="0.4"/><path d="M762.2 661.03l7.74 -3.18" stroke="#169f16" stroke-width="1.28" opacity="0.37"/><path d="M684.4 668.97l8.31 -5.41" stroke="#138913" stroke-width="1.6" opacity="0.32"/><path d="M681.72 823.64l14.36 -5.62" stroke="#138813" stroke-width="1.21" opacity="0.56"/><path d="M631.81 841.29l18.92 -4.31" stroke="#117c11" stroke-width="1.71" opacity="0.24"/><path d="M732.52 795.97l11.46 0.26" stroke="#107510" stroke-width="0.87" opacity="0.63"/><path d="M723.34 688.56l9.29 -13.72" stroke="#128112" stroke-width="1.25" opacity="0.32"/><path d="M709.44 776.81l5.72 -9.92" stroke="#138e13" stroke-width="1.41" opacity="0.65"/><path d="M741.16 727.28l6.9 -1.58" stroke="#138e13" stroke-width="1.16" opacity="0.58"/><path d="M672.96 762.77l17.97 3.17" stroke="#1abb1a" stroke-width="1.06" opacity="0.58"/><path d="M623.6 710.88l11.5 -8.4" stroke="#1bc31b" stroke-width="1.75" opacity="0.59"/><path d="M731.79 673.6l0.84 -20.86" stroke="#17a517" stroke-width="1.33" opacity="0.49"/><path d="M672.62 822.68l13.95 -8.92" stroke="#149014" stroke-width="0.86" opacity="0.32"/><path d="M665.32 717.59l15.77 13.46" stroke="#128312" stroke-width="1.08" opacity="0.68"/><path d="M748.62 825.57l3.76 -19.7" stroke="#128512" stroke-width="1.74" opacity="0.65"/><path d="M672.47 698.05l19.24 -9.12" stroke="#0d5d0d" stroke-width="1.85" opacity="0.24"/><path d="M759.88 696.3l-1.02 -12.44" stroke="#0a4e0a" stroke-width="1.19" opacity="0.57"/><path d="M664.65 808.3l11.23 9.36" stroke="#138813" stroke-width="1.8" opacity="0.26"/><path d="M717.1 784.46l5.06 -4.14" stroke="#0b510b" stroke-width="1.51" opacity="0.3"/><path d="M675.52 845.6l8.81 -2.09" stroke="#107810" stroke-width="1.43" opacity="0.34"/><path d="M713.32 682.73l6.29 -13.89" stroke="#159815" stroke-width="1.1" opacity="0.24"/><path d="M690.52 658.15l7.24 6.22" stroke="#107910" stroke-width="1.89" opacity="0.6"/><path d="M673.99 761.63l9.57 7.32" stroke="#138b13" stroke-width="1.57" opacity="0.66"/><path d="M635.76 730.6l15.92 -1.1" stroke="#138813" stroke-width="0.79" opacity="0.36"/><path d="M690.14 759.33l12.02 -1.61" stroke="#0a4d0a" stroke-width="1.63" opacity="0.26"/><path d="M649.58 821.69l15.85 -10.23" stroke="#1bc41b" stroke-width="1.54" opacity="0.21"/><path d="M638.55 832.77l5.37 -9.26" stroke="#1abe1a" stroke-width="1.8" opacity="0.62"/><path d="M652.09 765.05l5.46 -6" stroke="#149014" stroke-width="1.69" opacity="0.37"/><path d="M638.21 810.51l4.75 -3.99" stroke="#128512" stroke-width="0.79" opacity="0.25"/><path d="M635.27 830.83l7.74 -13.57" stroke="#0e690e" stroke-width="0.81" opacity="0.29"/><path d="M718.12 808.66l12.71 -4.69" stroke="#0d5e0d" stroke-width="1.43" opacity="0.65"/><path d="M718.23 845.43l14.73 1.63" stroke="#0e660e" stroke-width="1.35" opacity="0.51"/><path d="M735.21 847.34l14.32 -8.18" stroke="#138d13" stroke-width="0.96" opacity="0.34"/><path d="M741.08 694.5l12.97 13.17" stroke="#128712" stroke-width="0.76" opacity="0.24"/><path d="M737.88 824.36l6.98 2.37" stroke="#118011" stroke-width="0.82" opacity="0.42"/><path d="M681.48 723.83l5.58 2.99" stroke="#19b319" stroke-width="1.35" opacity="0.3"/><path d="M686.2 783.83l12.02 -7.83" stroke="#149214" stroke-width="1.34" opacity="0.36"/><path d="M695.95 787.82l3.56 -8.26" stroke="#0b4f0b" stroke-width="1.15" opacity="0.51"/><path d="M748.04 803.49l12.6 -1.46" stroke="#18b218" stroke-width="0.7" opacity="0.56"/><path d="M728.06 699.11l6.02 -0.92" stroke="#0a4b0a" stroke-width="1.54" opacity="0.68"/><path d="M738.41 728.36l14.69 -6.35" stroke="#128412" stroke-width="1.66" opacity="0.42"/><path d="M709.67 821.41l6.66 -3.39" stroke="#149414" stroke-width="1.82" opacity="0.53"/><path d="M612.69 803.9l18.94 7.17" stroke="#0d5e0d" stroke-width="1.42" opacity="0.38"/><path d="M745.12 669.62l-1.59 -21.94" stroke="#0a480a" stroke-width="1" opacity="0.45"/><path d="M632.41 742.21l7.99 -1.93" stroke="#17a617" stroke-width="1.81" opacity="0.25"/><path d="M741.16 807.66l19.95 6.72" stroke="#1aba1a" stroke-width="1.22" opacity="0.48"/><path d="M669.2 693.43l6.9 -10.67" stroke="#117d11" stroke-width="1.04" opacity="0.47"/><path d="M721.43 698.97l17.53 5.82" stroke="#17a817" stroke-width="1.04" opacity="0.65"/><path d="M655.75 735.43l16.36 -13.54" stroke="#19b619" stroke-width="1.42" opacity="0.59"/><path d="M620.84 862.75l15.69 -9.42" stroke="#16a416" stroke-width="0.86" opacity="0.44"/><path d="M655.61 835.57l13.97 -7.59" stroke="#107510" stroke-width="1.34" opacity="0.55"/><path d="M615.83 838.99l6.71 -3.44" stroke="#18ae18" stroke-width="0.86" opacity="0.31"/><path d="M762.25 790.82l6.37 -3.71" stroke="#19b719" stroke-width="1.01" opacity="0.33"/><path d="M665.1 668.17l15.19 -6.42" stroke="#0d5f0d" stroke-width="0.71" opacity="0.29"/><path d="M656.3 714.83l10.56 -1.69" stroke="#138c13" stroke-width="0.77" opacity="0.58"/><path d="M663.64 756.57l6.72 -7.21" stroke="#159c15" stroke-width="1.1" opacity="0.21"/><path d="M713.44 730.31l7.84 -0.43" stroke="#0c580c" stroke-width="1.65" opacity="0.49"/><path d="M699.03 732.86l18.28 -4.06" stroke="#138813" stroke-width="0.96" opacity="0.52"/><path d="M707.37 728.24l2.25 -7.64" stroke="#107310" stroke-width="0.91" opacity="0.34"/><path d="M680.04 700.15l10.21 -3.01" stroke="#17a617" stroke-width="1.78" opacity="0.51"/><path d="M724.21 788.79l1.55 -12.96" stroke="#118011" stroke-width="1.2" opacity="0.34"/><path d="M642.5 783.94l5.89 -15.15" stroke="#118011" stroke-width="1.48" opacity="0.4"/><path d="M756.39 849.21l5.06 -5.46" stroke="#0c5a0c" stroke-width="1.29" opacity="0.52"/></g>
<rect x="618.2" y="651" width="148.7" height="210.3" filter="url(#mI1)" style="mix-blend-mode:multiply"/>
<rect x="618.2" y="651" width="148.7" height="210.3" fill="#c4c4c4" style="mix-blend-mode:multiply"/>
<rect x="618.2" y="651" width="148.7" height="210.3" fill="#0a3a0c" style="mix-blend-mode:screen" opacity="0.3"/>
</g>
<g clip-path="url(#cI2)" style="isolation:isolate">
<rect x="771.3" y="651" width="148.8" height="210.3" fill="#021002"/>
<rect x="710.7" y="621.15" width="270" height="270" transform="rotate(-62 845.7 756.15)" filter="url(#nId)" style="mix-blend-mode:screen"/>
<rect x="710.7" y="621.15" width="270" height="270" transform="rotate(-40 845.7 756.15)" filter="url(#nIe)" style="mix-blend-mode:screen"/>
<rect x="710.7" y="621.15" width="270" height="270" transform="rotate(-82 845.7 756.15)" filter="url(#nIf)" style="mix-blend-mode:screen"/>
<g filter="url(#bI2)"><ellipse cx="845.7" cy="756.15" rx="26" ry="34" fill="#000" opacity="0.4"/><ellipse cx="897.78" cy="829.75" rx="22" ry="30" fill="#000" opacity="0.35"/><ellipse cx="801.06" cy="676.24" rx="22" ry="20" fill="#000" opacity="0.3"/></g>
<g filter="url(#bI)" fill="none" stroke-linecap="round"><path d="M800.4 682.98l1.07 -15" stroke="#0b520b" stroke-width="0.81" opacity="0.65"/><path d="M807.89 811.9l1.14 -10.12" stroke="#159615" stroke-width="1.32" opacity="0.24"/><path d="M876.52 744.09l10.14 -1.36" stroke="#128112" stroke-width="0.7" opacity="0.48"/><path d="M822.29 665.06l12.46 -1.88" stroke="#128612" stroke-width="1.17" opacity="0.48"/><path d="M800.24 682.84l7.37 -2.28" stroke="#0a4b0a" stroke-width="1.85" opacity="0.51"/><path d="M778.47 675.09l11.45 -4.32" stroke="#0e690e" stroke-width="1.36" opacity="0.46"/><path d="M821.59 827.96l5.84 -4.51" stroke="#0c570c" stroke-width="1.72" opacity="0.69"/><path d="M859.08 824.16l-6.74 -8.5" stroke="#128212" stroke-width="0.82" opacity="0.39"/><path d="M861.14 842.49l8.32 -10.46" stroke="#138a13" stroke-width="1.83" opacity="0.32"/><path d="M866.46 762.78l-12.88 -12.76" stroke="#083e08" stroke-width="1.34" opacity="0.58"/><path d="M808.19 790.98l0.53 -10.66" stroke="#094509" stroke-width="1.17" opacity="0.33"/><path d="M800.58 691.15l12.06 -6.59" stroke="#138b13" stroke-width="0.82" opacity="0.66"/><path d="M896.98 768.13l4.69 -12.56" stroke="#0c5c0c" stroke-width="0.91" opacity="0.57"/><path d="M799.18 839.92l15.98 -9.76" stroke="#128512" stroke-width="0.88" opacity="0.42"/><path d="M844.82 683.94l10.29 -17.88" stroke="#16a416" stroke-width="1.55" opacity="0.53"/><path d="M920.44 758.97l-4.07 -6.95" stroke="#117f11" stroke-width="1.88" opacity="0.42"/><path d="M803.19 756.76l-8.78 -18.5" stroke="#16a316" stroke-width="0.97" opacity="0.33"/><path d="M841.84 730.25l0.59 -6.21" stroke="#138a13" stroke-width="1.11" opacity="0.24"/><path d="M853.8 706.77l8.46 -15.42" stroke="#0b510b" stroke-width="0.76" opacity="0.57"/><path d="M777.81 792.55l6.72 -3.62" stroke="#107410" stroke-width="1.85" opacity="0.57"/><path d="M804.94 672.69l3.93 -8.54" stroke="#128212" stroke-width="1.9" opacity="0.62"/><path d="M823.29 765.79l9.66 -12.45" stroke="#0e6b0e" stroke-width="1.85" opacity="0.69"/><path d="M832.2 847.64l5.23 3.76" stroke="#138813" stroke-width="0.91" opacity="0.41"/><path d="M790.3 790.88l-1.83 -13.01" stroke="#0e6a0e" stroke-width="1.56" opacity="0.29"/><path d="M901.03 800.97l8.15 -9.67" stroke="#128712" stroke-width="0.8" opacity="0.31"/><path d="M802.2 666.22l0.44 -7.8" stroke="#128512" stroke-width="0.98" opacity="0.27"/><path d="M870.41 707.71l7.06 -14.6" stroke="#149314" stroke-width="1.87" opacity="0.67"/><path d="M911.58 674.18l5.68 -2.62" stroke="#17a717" stroke-width="1.85" opacity="0.5"/><path d="M876.2 676.64l-8.47 -6.7" stroke="#117b11" stroke-width="1.83" opacity="0.5"/><path d="M784.45 676.28l-0.95 -7.84" stroke="#0f6d0f" stroke-width="1.48" opacity="0.48"/><path d="M797.64 668.97l12.56 -1.9" stroke="#138813" stroke-width="1.28" opacity="0.6"/><path d="M889.64 786.27l-8.45 -14.83" stroke="#0d620d" stroke-width="1.84" opacity="0.44"/><path d="M779.84 661.16l5.8 -11.68" stroke="#0b530b" stroke-width="0.99" opacity="0.56"/><path d="M861.65 818.59l5.01 -12.79" stroke="#0b530b" stroke-width="1.89" opacity="0.29"/><path d="M807.12 853.07l13.48 -13.51" stroke="#0a4e0a" stroke-width="0.86" opacity="0.41"/><path d="M783.38 814.77l18.74 -7.83" stroke="#0d600d" stroke-width="1.34" opacity="0.38"/><path d="M857.94 859.51l7.82 -6.54" stroke="#107810" stroke-width="1.46" opacity="0.23"/><path d="M859.63 657.51l4.23 -4.86" stroke="#169e16" stroke-width="1.51" opacity="0.4"/><path d="M908.03 756.82l8.25 -4.01" stroke="#0d620d" stroke-width="1.66" opacity="0.5"/><path d="M807.69 788.54l3.36 -16.99" stroke="#128712" stroke-width="1.01" opacity="0.47"/><path d="M841.02 731.05l-7.67 -14.58" stroke="#128212" stroke-width="1.58" opacity="0.55"/><path d="M848.84 838.36l11.42 -11.88" stroke="#0e6b0e" stroke-width="0.93" opacity="0.22"/><path d="M829.22 767.23l17.58 -2.48" stroke="#0e6a0e" stroke-width="1.19" opacity="0.24"/><path d="M887.12 765.49l12.12 -12.45" stroke="#094609" stroke-width="1.68" opacity="0.29"/><path d="M857.3 790.34l10.39 -12.64" stroke="#0e640e" stroke-width="1.6" opacity="0.48"/><path d="M906.31 865.39l11.32 -13.69" stroke="#169e16" stroke-width="0.94" opacity="0.46"/><path d="M876.29 806.38l1.94 -7.84" stroke="#149214" stroke-width="0.97" opacity="0.38"/><path d="M874.31 727.59l12.94 -8.42" stroke="#159c15" stroke-width="1.4" opacity="0.61"/><path d="M803.98 665.52l2.52 -6.4" stroke="#0c5a0c" stroke-width="0.94" opacity="0.55"/><path d="M779.65 657.55l13.07 -8.45" stroke="#148f14" stroke-width="1.72" opacity="0.36"/><path d="M813.44 734.19l8.23 -18.64" stroke="#159915" stroke-width="0.92" opacity="0.37"/><path d="M845.57 789.93l9.45 -8.47" stroke="#094709" stroke-width="1.33" opacity="0.64"/><path d="M851.48 749.58l8.4 1.2" stroke="#094709" stroke-width="1.56" opacity="0.58"/><path d="M913.15 661.85l-3.88 -11.92" stroke="#094209" stroke-width="1.69" opacity="0.32"/><path d="M848.99 797.59l3.04 -6.31" stroke="#117c11" stroke-width="1.01" opacity="0.25"/><path d="M874.87 794.09l16.53 2.34" stroke="#128712" stroke-width="1.88" opacity="0.59"/><path d="M863.26 712.61l-0.96 -7.74" stroke="#138d13" stroke-width="0.71" opacity="0.35"/><path d="M791.44 687.32l13.78 -12.37" stroke="#159a15" stroke-width="1.35" opacity="0.54"/><path d="M878.11 829.85l10.13 -15.12" stroke="#0a4c0a" stroke-width="1.21" opacity="0.22"/><path d="M821.36 729.14l15.76 -4.5" stroke="#159a15" stroke-width="1.23" opacity="0.66"/><path d="M878.56 699.76l13.16 -3.01" stroke="#0d610d" stroke-width="0.97" opacity="0.45"/><path d="M866.23 704.95l-0.16 -16.04" stroke="#117d11" stroke-width="1.79" opacity="0.35"/><path d="M784.59 755.86l2.67 -10.68" stroke="#0b510b" stroke-width="1.74" opacity="0.68"/><path d="M773.75 756.62l10.79 -6.1" stroke="#0a4c0a" stroke-width="1.4" opacity="0.61"/><path d="M774.68 708.81l-0.4 -19.4" stroke="#0b520b" stroke-width="1.62" opacity="0.67"/><path d="M788.52 763.82l11.71 -11.78" stroke="#094409" stroke-width="0.84" opacity="0.59"/><path d="M791.96 794.52l2.77 -14.18" stroke="#0e640e" stroke-width="1.79" opacity="0.23"/><path d="M782.98 826.92l4.35 -12.51" stroke="#094309" stroke-width="1.53" opacity="0.31"/><path d="M776.96 717.33l15.04 -4.2" stroke="#0e650e" stroke-width="1.88" opacity="0.24"/><path d="M795.04 733l3.42 -18.7" stroke="#0e690e" stroke-width="0.88" opacity="0.54"/><path d="M853.2 760.94l17.47 -7.84" stroke="#16a316" stroke-width="1.12" opacity="0.22"/><path d="M832.66 791.76l19.01 -3.67" stroke="#128712" stroke-width="1.23" opacity="0.66"/><path d="M903.38 862.2l15.43 -5.67" stroke="#0b4f0b" stroke-width="0.75" opacity="0.5"/><path d="M791.27 766.11l6.21 -19.43" stroke="#17a617" stroke-width="1.68" opacity="0.51"/><path d="M831.87 731.29l3.41 -18.17" stroke="#107810" stroke-width="0.99" opacity="0.69"/><path d="M903.36 838.74l-4.14 -18.41" stroke="#107610" stroke-width="1.83" opacity="0.53"/><path d="M892.86 690.4l-0.37 -10.67" stroke="#0c580c" stroke-width="0.82" opacity="0.52"/><path d="M770.54 860.69l18.54 -1.84" stroke="#149414" stroke-width="1.84" opacity="0.67"/><path d="M809.26 764.15l2.86 -5.34" stroke="#0f6e0f" stroke-width="1.03" opacity="0.27"/><path d="M907.74 700.81l11.84 -14.89" stroke="#159715" stroke-width="1.66" opacity="0.3"/><path d="M870.97 800.58l7.51 -13.65" stroke="#0c580c" stroke-width="1.14" opacity="0.69"/><path d="M916.02 781.56l5.87 3.24" stroke="#0f6d0f" stroke-width="0.86" opacity="0.61"/><path d="M802.4 681.36l3.92 -13.1" stroke="#159715" stroke-width="1.59" opacity="0.48"/><path d="M868.85 698.42l16.66 -10.03" stroke="#0b510b" stroke-width="1.54" opacity="0.69"/><path d="M765.96 838.58l16.42 -9.59" stroke="#0c5b0c" stroke-width="1.71" opacity="0.42"/><path d="M891 655.54l8.45 -0.17" stroke="#16a416" stroke-width="1.53" opacity="0.36"/><path d="M845.38 768.78l18.72 -3.52" stroke="#0d5e0d" stroke-width="1.01" opacity="0.49"/><path d="M862.15 704.23l12.56 -17.43" stroke="#0c5b0c" stroke-width="0.95" opacity="0.45"/><path d="M812.56 695.24l12.91 -7.23" stroke="#16a316" stroke-width="0.93" opacity="0.65"/><path d="M825.56 785.4l15.99 -8.27" stroke="#138913" stroke-width="1.12" opacity="0.46"/><path d="M867.64 866.51l0.95 -20.28" stroke="#0c5a0c" stroke-width="1.59" opacity="0.27"/><path d="M862.3 751.93l3.73 -19.4" stroke="#083d08" stroke-width="1.27" opacity="0.31"/><path d="M811.75 721.65l11.76 -11.89" stroke="#0a490a" stroke-width="1.69" opacity="0.33"/><path d="M906.58 664.57l14 -2.69" stroke="#0e690e" stroke-width="0.99" opacity="0.25"/><path d="M806.29 672.86l4.51 -15.99" stroke="#159c15" stroke-width="1.81" opacity="0.24"/><path d="M822.18 689.65l-6.02 -9.52" stroke="#0f6e0f" stroke-width="1.86" opacity="0.43"/><path d="M776.08 744.4l-6.71 -10.67" stroke="#0c5c0c" stroke-width="1.89" opacity="0.38"/><path d="M855.12 762.68l0.66 -11.74" stroke="#083f08" stroke-width="0.97" opacity="0.27"/><path d="M812.85 825.96l7.89 -13.51" stroke="#0f6e0f" stroke-width="1.46" opacity="0.23"/><path d="M828.84 818.39l5.23 -3.79" stroke="#159b15" stroke-width="1.3" opacity="0.42"/><path d="M842.12 850.2l14.09 -5.49" stroke="#117a11" stroke-width="1.76" opacity="0.24"/><path d="M886.34 776.32l12.31 -15.99" stroke="#0c5c0c" stroke-width="1.05" opacity="0.56"/><path d="M819.34 768.31l-1.76 -9.81" stroke="#138c13" stroke-width="1.17" opacity="0.54"/><path d="M807.69 738.25l-6.28 -18.38" stroke="#094509" stroke-width="0.75" opacity="0.49"/><path d="M909.21 732.85l7.38 -12.5" stroke="#0a4d0a" stroke-width="0.73" opacity="0.64"/><path d="M858.49 785.88l0.52 -6.95" stroke="#128112" stroke-width="1.43" opacity="0.64"/><path d="M804.92 685.79l1.09 -6.74" stroke="#0e650e" stroke-width="1.85" opacity="0.58"/><path d="M780.28 800.22l-1.75 -14.62" stroke="#0b530b" stroke-width="1.2" opacity="0.51"/><path d="M786.06 798.9l8.06 -8.68" stroke="#149314" stroke-width="0.72" opacity="0.55"/><path d="M806.68 680.69l7.47 7.25" stroke="#159d15" stroke-width="1.43" opacity="0.27"/><path d="M835.51 728.75l7.92 -0.57" stroke="#0f6c0f" stroke-width="1.05" opacity="0.37"/><path d="M775.72 685.49l3.07 -10.58" stroke="#0e640e" stroke-width="0.79" opacity="0.32"/><path d="M846.54 753.3l-2.59 -18.59" stroke="#149214" stroke-width="1.51" opacity="0.53"/><path d="M907.48 822.95l8.23 -3.2" stroke="#17a717" stroke-width="1.65" opacity="0.41"/><path d="M854.41 793.1l-1.8 -6.67" stroke="#117a11" stroke-width="1.54" opacity="0.39"/><path d="M784.34 701.64l3.72 -8.71" stroke="#138d13" stroke-width="1.32" opacity="0.54"/><path d="M801.8 777.77l1.78 -9.12" stroke="#169e16" stroke-width="1.79" opacity="0.33"/><path d="M849.12 742.13l15.73 -7.13" stroke="#138913" stroke-width="1.9" opacity="0.48"/><path d="M847.01 709.05l10.98 0.87" stroke="#0e680e" stroke-width="1.65" opacity="0.3"/><path d="M830.75 735.19l3.94 -9.12" stroke="#128612" stroke-width="0.7" opacity="0.6"/><path d="M775.92 805.1l6.78 -3.22" stroke="#0f720f" stroke-width="1.22" opacity="0.6"/><path d="M834.26 804.59l-0.11 -18.73" stroke="#0f700f" stroke-width="1.89" opacity="0.33"/><path d="M896.59 813.22l7.75 -20.51" stroke="#149314" stroke-width="1.44" opacity="0.22"/><path d="M874.86 796.65l5.19 -9.6" stroke="#117b11" stroke-width="1.53" opacity="0.57"/><path d="M788.88 710.2l-13.71 -10.25" stroke="#117d11" stroke-width="0.96" opacity="0.69"/><path d="M784.9 766.24l-0.61 -10.38" stroke="#094109" stroke-width="1.78" opacity="0.32"/><path d="M840.81 682.72l6.81 -5.8" stroke="#0d630d" stroke-width="0.74" opacity="0.43"/><path d="M782.04 715.8l6.43 -2.2" stroke="#107610" stroke-width="1.11" opacity="0.67"/><path d="M873.51 740.45l5.8 -4.55" stroke="#149214" stroke-width="1.88" opacity="0.39"/><path d="M815.93 754.68l10.87 -15.96" stroke="#148f14" stroke-width="1.49" opacity="0.25"/><path d="M851.1 671.37l12.6 -14.38" stroke="#0b530b" stroke-width="1.04" opacity="0.4"/><path d="M842.02 719.21l1.17 -14.3" stroke="#138d13" stroke-width="1.67" opacity="0.55"/><path d="M893.77 766.62l-8.87 -12.22" stroke="#149214" stroke-width="1.49" opacity="0.52"/><path d="M798.62 770.17l8.36 -14.48" stroke="#0a4b0a" stroke-width="1.54" opacity="0.69"/><path d="M856.74 791.04l-16.47 -14.5" stroke="#0f6e0f" stroke-width="1.27" opacity="0.45"/><path d="M845.2 776.39l8.37 -15.2" stroke="#159815" stroke-width="1.23" opacity="0.25"/><path d="M844.23 788.97l17.8 -9.47" stroke="#083f08" stroke-width="1.82" opacity="0.34"/><path d="M802.81 664.32l9.34 -13.49" stroke="#128312" stroke-width="1.07" opacity="0.55"/><path d="M913.41 719.22l7.74 -16.1" stroke="#0b550b" stroke-width="1.4" opacity="0.44"/><path d="M885.94 849.4l8.59 -13.4" stroke="#17a517" stroke-width="1.19" opacity="0.25"/></g>
<rect x="771.3" y="651" width="148.8" height="210.3" filter="url(#mI2)" style="mix-blend-mode:multiply"/>
<rect x="771.3" y="651" width="148.8" height="210.3" fill="#c4c4c4" style="mix-blend-mode:multiply"/>
<rect x="771.3" y="651" width="148.8" height="210.3" fill="#0a3a0c" style="mix-blend-mode:screen" opacity="0.2"/>
</g>
<text x="632.6" y="672.8" font-size="17" text-anchor="start" fill="#fff" stroke="#fff">control medium</text>
<text x="781" y="673.2" font-size="17" text-anchor="start" fill="#fff" stroke="#fff">gel-conditioned</text>
<text x="781" y="693.5" font-size="17" text-anchor="start" fill="#fff" stroke="#fff">medium</text>
<text x="631.6" y="838.4" font-size="17" text-anchor="start" fill="#fff" stroke="#fff">200 μm</text>
<rect x="639.1" y="844.8" width="41.3" height="2.2" fill="#fff"/>
</svg>
</body>
</html>
